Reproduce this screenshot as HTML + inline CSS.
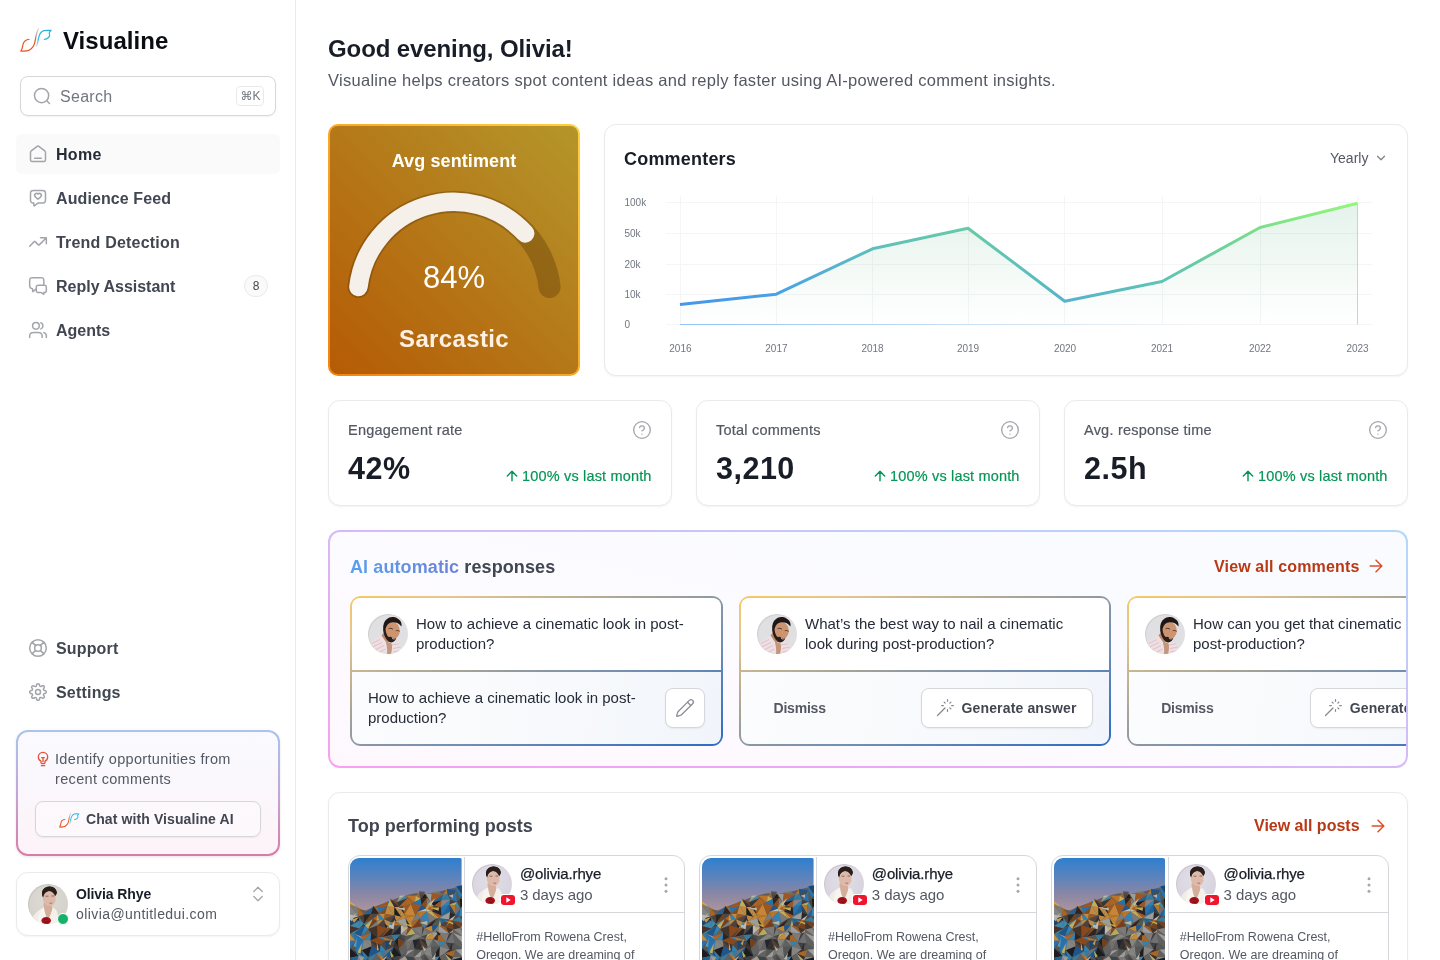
<!DOCTYPE html>
<html lang="en">
<head>
<meta charset="utf-8">
<title>Visualine</title>
<style>
*{box-sizing:border-box;margin:0;padding:0}
html,body{width:1440px;height:960px;overflow:hidden;background:#fff}
body{font-family:"Liberation Sans",sans-serif;color:#181d27;position:relative;-webkit-font-smoothing:antialiased}
.abs{position:absolute}
.t{position:absolute;white-space:nowrap;line-height:1}
.b{font-weight:700}
svg{display:block;position:absolute;overflow:visible}
.ic{fill:none;stroke:#a3a5ab;stroke-width:1.8;stroke-linecap:round;stroke-linejoin:round}
/* sidebar */
#side{position:absolute;left:0;top:0;width:296px;height:960px;background:#fff;border-right:1px solid #e9eaeb}
.nav{position:absolute;left:56px;font-size:16px;font-weight:700;color:#414651;white-space:nowrap;line-height:20px}
.card{position:absolute;background:#fff;border:1px solid #e9eaeb;border-radius:12px;box-shadow:0 1px 2px rgba(10,13,18,.05)}
.sl{top:422.600px;font-size:14.5px;color:#535862;letter-spacing:.22px;-webkit-text-stroke:.2px #535862}
.sv{top:453px;font-size:30.5px;color:#181d27;letter-spacing:.5px}
.hc{top:420px;stroke-width:1.6}
.ar{top:468px;stroke:#079455;stroke-width:2.2}
.sc{top:469px;font-size:14.5px;color:#079455;letter-spacing:.17px;-webkit-text-stroke:.2px #079455}
/* gradient cards (coords relative to #aibox at 330,532) */
.gc{position:absolute;top:64px;width:372.67px;height:150px;border-radius:11px;background:linear-gradient(to bottom right,#f5c866 0%,#e4c68e 14%,#a9a596 38%,#8896a4 52%,#6f8db3 66%,#4a7cbd 84%,#2b6cc2 100%)}
.gt{position:absolute;top:66px;width:368.67px;height:72px;border-radius:8px 8px 0 0;background:#fff}
.gb{position:absolute;top:140px;width:368.67px;height:72px;border-radius:0 0 8px 8px;background:linear-gradient(100deg,#fbfcfd 0%,#f7f9fc 60%,#f1f5fb 100%)}
.gs{display:none}
.q{font-size:15px;line-height:20px;color:#252b37;letter-spacing:0}
.dm{font-size:14px;color:#535862;letter-spacing:-.2px}
.ga{font-size:14px;color:#414651;letter-spacing:.15px}
.btn{position:absolute;border:1px solid #d5d7da;border-radius:8px;background:#fff;box-shadow:0 1px 2px rgba(10,13,18,.06)}
.wand{stroke:#85888e;stroke-width:1.5}
.av1::after,.av2::after,.av0::after{content:"";position:absolute;left:0;top:0;width:100%;height:100%;border-radius:50%;border:1px solid rgba(0,0,0,.09)}
.av2{position:absolute;top:82px;width:40px;height:40px;border-radius:50%;overflow:hidden}
.pn{top:866px;font-size:15px;color:#181d27;letter-spacing:-.13px;-webkit-text-stroke:.25px #181d27}
.pd{top:886.500px;font-size:15px;color:#535862;letter-spacing:-.09px}
.pt{top:928px;font-size:12.5px;line-height:18.4px;color:#535862}
.av1{position:absolute;top:864px;width:40px;height:40px;border-radius:50%;overflow:hidden}
</style>
</head>
<body>
<!-- ================= SIDEBAR ================= -->
<div id="side">
  <!-- logo -->
  <svg style="left:0;top:0" width="70" height="60" viewBox="0 0 70 60" fill="none" stroke-linecap="round" stroke-linejoin="round" stroke-width="1.25">
    <defs>
      <linearGradient id="lgo" x1="0" y1="51" x2="0" y2="28.8" gradientUnits="userSpaceOnUse"><stop offset="0" stop-color="#e9501a"/><stop offset=".5" stop-color="#e25a2a"/><stop offset=".72" stop-color="#bfa9a0"/><stop offset="1" stop-color="#dcdcdc"/></linearGradient>
      <linearGradient id="lgb" x1="0" y1="30" x2="0" y2="46.5" gradientUnits="userSpaceOnUse"><stop offset="0" stop-color="#27b1de"/><stop offset=".6" stop-color="#3cc0e4"/><stop offset="1" stop-color="#d8e4e8"/></linearGradient>
    </defs>
    <path d="M29 39.3C26.5 39.3 23.5 41.5 23 44.5C22.6 47 22.3 49.5 20.8 51C25 51.6 30.5 51 33.5 46C35.5 42.5 35.3 39 36 36C36.7 33 37.5 30.5 38.4 28.8" stroke="url(#lgo)"/>
    <path d="M44.4 39.4C46.5 39.2 48.5 38.2 49.4 36.4C50 35 49 33.5 49.4 32.5C49.8 31.5 50.5 31 51.1 30.4C48.5 30.2 46 30.2 44 30.6C41.5 31.2 40 33.5 39.3 35.5C38.3 38.5 38 41 37.5 43.2C37.2 44.5 36.8 45.5 36.4 46.3" stroke="url(#lgb)"/>
  </svg>
  <div class="t b" style="left:63px;top:29px;font-size:24px;color:#0a0d12;letter-spacing:.05px" id="brand">Visualine</div>

  <!-- search -->
  <div class="abs" style="left:20px;top:76px;width:256px;height:40px;border:1px solid #d5d7da;border-radius:8px;box-shadow:0 1px 2px rgba(10,13,18,.05);background:#fff"></div>
  <svg class="ic" style="left:32px;top:86px" width="20" height="20" viewBox="0 0 24 24"><path d="M21 21L17.5 17.5M20 11.5C20 16.1944 16.1944 20 11.5 20C6.80558 20 3 16.1944 3 11.5C3 6.80558 6.80558 3 11.5 3C16.1944 3 20 6.80558 20 11.5Z"/></svg>
  <div class="t" style="left:60px;top:89px;font-size:16px;color:#717680;letter-spacing:.3px">Search</div>
  <div class="abs" style="left:236px;top:86px;width:28px;height:20px;border:1px solid #e9eaeb;border-radius:4px;background:#fff"></div>
  <div class="t" style="left:240.500px;top:90px;font-size:12px;color:#717680;font-family:'DejaVu Sans','Liberation Sans',sans-serif">⌘</div>
  <div class="t" style="left:252.500px;top:90px;font-size:12px;color:#717680">K</div>

  <!-- nav -->
  <div class="abs" style="left:16px;top:134px;width:264px;height:40px;background:#fafafa;border-radius:6px"></div>
  <svg class="ic" style="left:28px;top:144px" width="20" height="20" viewBox="0 0 24 24"><path d="M8 17H16M11.0177 2.764L4.23539 8.03912C3.78202 8.39175 3.55534 8.56806 3.39203 8.78886C3.24737 8.98444 3.1396 9.20478 3.07403 9.43905C3 9.70352 3 9.9907 3 10.5651V17.8C3 18.9201 3 19.4801 3.21799 19.908C3.40973 20.2843 3.71569 20.5903 4.09202 20.782C4.51984 21 5.07989 21 6.2 21H17.8C18.9201 21 19.4802 21 19.908 20.782C20.2843 20.5903 20.5903 20.2843 20.782 19.908C21 19.4801 21 18.9201 21 17.8V10.5651C21 9.9907 21 9.70352 20.926 9.43905C20.8604 9.20478 20.7526 8.98444 20.608 8.78886C20.4447 8.56806 20.218 8.39175 19.7646 8.03913L12.9823 2.764C12.631 2.49075 12.4553 2.35412 12.2613 2.3016C12.0902 2.25526 11.9098 2.25526 11.7387 2.3016C11.5447 2.35412 11.369 2.49075 11.0177 2.764Z"/></svg>
  <div class="nav" style="top:145px;color:#252b37;letter-spacing:.3px">Home</div>

  <svg class="ic" style="left:28px;top:188px" width="20" height="20" viewBox="0 0 24 24"><path d="M7 18V20.3355C7 20.8684 7 21.1348 7.10923 21.2716C7.20422 21.3906 7.34827 21.4599 7.50054 21.4597C7.67563 21.4595 7.88367 21.2931 8.29976 20.9602L10.6852 19.0518C11.1725 18.662 11.4162 18.4671 11.6875 18.3285C11.9282 18.2055 12.1844 18.1156 12.4492 18.0613C12.7477 18 13.0597 18 13.6837 18H16.2C17.8802 18 18.7202 18 19.362 17.673C19.9265 17.3854 20.3854 16.9265 20.673 16.362C21 15.7202 21 14.8802 21 13.2V7.8C21 6.11984 21 5.27976 20.673 4.63803C20.3854 4.07354 19.9265 3.6146 19.362 3.32698C18.7202 3 17.8802 3 16.2 3H7.8C6.11984 3 5.27976 3 4.63803 3.32698C4.07354 3.6146 3.6146 4.07354 3.32698 4.63803C3 5.27976 3 6.11984 3 7.8V14C3 14.93 3 15.395 3.10222 15.7765C3.37962 16.8117 4.18827 17.6204 5.22354 17.8978C5.60504 18 6.07003 18 7 18Z"/><path d="M11.9973 7.33059C11.1975 6.4216 9.8639 6.17708 8.86188 7.00945C7.85986 7.84182 7.71879 9.23349 8.50568 10.2179C9.077 10.9327 10.6593 12.3397 11.4833 13.0569C11.662 13.2124 11.7513 13.2902 11.856 13.321C11.9466 13.3477 12.0479 13.3477 12.1386 13.321C12.2432 13.2902 12.3325 13.2124 12.5112 13.0569C13.3353 12.3397 14.9175 10.9327 15.4888 10.2179C16.2757 9.23349 16.1519 7.83306 15.1326 7.00945C14.1134 6.18584 12.797 6.4216 11.9973 7.33059Z"/></svg>
  <div class="nav" style="top:189px;letter-spacing:.1px">Audience Feed</div>

  <svg class="ic" style="left:28px;top:232px" width="20" height="20" viewBox="0 0 24 24"><path d="M22 7L14.1314 14.8686C13.7354 15.2646 13.5373 15.4627 13.309 15.5368C13.1082 15.6021 12.8918 15.6021 12.691 15.5368C12.4627 15.4627 12.2646 15.2646 11.8686 14.8686L9.13137 12.1314C8.73535 11.7354 8.53735 11.5373 8.30902 11.4632C8.10817 11.3979 7.89183 11.3979 7.69098 11.4632C7.46265 11.5373 7.26465 11.7354 6.86863 12.1314L2 17M22 7H15M22 7V14"/></svg>
  <div class="nav" style="top:233px;letter-spacing:.2px">Trend Detection</div>

  <svg class="ic" style="left:28px;top:276px" width="20" height="20" viewBox="0 0 24 24"><path d="M10 15L6.92474 18.1137C6.49579 18.548 6.28131 18.7652 6.09695 18.7805C5.93701 18.7938 5.78042 18.7295 5.67596 18.6076C5.55556 18.4672 5.55556 18.162 5.55556 17.5515V15.9916C5.55556 15.444 5.10707 15.0477 4.5652 14.9683C3.25374 14.7762 2.22378 13.7463 2.03168 12.4348C2 12.2186 2 11.9605 2 11.4444V6.8C2 5.11984 2 4.27976 2.32698 3.63803C2.6146 3.07354 3.07354 2.6146 3.63803 2.32698C4.27976 2 5.11984 2 6.8 2H14.2C15.8802 2 16.7202 2 17.362 2.32698C17.9265 2.6146 18.3854 3.07354 18.673 3.63803C19 4.27976 19 5.11984 19 6.8V11M19 22L16.8236 20.4869C16.5177 20.2742 16.3647 20.1678 16.1982 20.0924C16.0504 20.0255 15.8951 19.9768 15.7356 19.9474C15.5558 19.9143 15.3695 19.9143 14.9969 19.9143H13.2C12.0799 19.9143 11.5198 19.9143 11.092 19.6963C10.7157 19.5046 10.4097 19.1986 10.218 18.8223C10 18.3944 10 17.8344 10 16.7143V14.2C10 13.0799 10 12.5198 10.218 12.092C10.4097 11.7157 10.7157 11.4097 11.092 11.218C11.5198 11 12.0799 11 13.2 11H18.8C19.9201 11 20.4802 11 20.908 11.218C21.2843 11.4097 21.5903 11.7157 21.782 12.092C22 12.5198 22 13.0799 22 14.2V16.9143C22 17.8462 22 18.3121 21.8478 18.6797C21.6448 19.1697 21.2554 19.5591 20.7654 19.762C20.3978 19.9143 19.9319 19.9143 19 19.9143V22Z"/></svg>
  <div class="nav" style="top:277px">Reply Assistant</div>
  <div class="abs" style="left:244px;top:275px;width:24px;height:22px;border-radius:11px;background:#fafafa;border:1px solid #e9eaeb"></div>
  <div class="t" style="left:252px;top:280px;font-size:12px;color:#414651;width:8px;text-align:center">8</div>

  <svg class="ic" style="left:28px;top:320px" width="20" height="20" viewBox="0 0 24 24"><path d="M22 21V19C22 17.1362 20.7252 15.5701 19 15.126M15.5 3.29076C16.9659 3.88415 18 5.32131 18 7C18 8.67869 16.9659 10.1159 15.5 10.7092M17 21C17 19.1362 17 18.2044 16.6955 17.4693C16.2895 16.4892 15.5108 15.7105 14.5307 15.3045C13.7956 15 12.8638 15 11 15H8C6.13623 15 5.20435 15 4.46927 15.3045C3.48915 15.7105 2.71046 16.4892 2.30448 17.4693C2 18.2044 2 19.1362 2 21M13.5 7C13.5 9.20914 11.7091 11 9.5 11C7.29086 11 5.5 9.20914 5.5 7C5.5 4.79086 7.29086 3 9.5 3C11.7091 3 13.5 4.79086 13.5 7Z"/></svg>
  <div class="nav" style="top:321px">Agents</div>

  <!-- footer nav -->
  <svg class="ic" style="left:28px;top:638px" width="20" height="20" viewBox="0 0 24 24"><path d="M9.13626 9.13628L4.92893 4.92896M4.92893 19.0711L9.1677 14.8323M14.8611 14.8638L19.0684 19.0711M19.0684 4.92896L14.8287 9.16862M22 12C22 17.5228 17.5228 22 12 22C6.47715 22 2 17.5228 2 12C2 6.47715 6.47715 2 12 2C17.5228 2 22 6.47715 22 12ZM16 12C16 14.2091 14.2091 16 12 16C9.79086 16 8 14.2091 8 12C8 9.79086 9.79086 8 12 8C14.2091 8 16 9.79086 16 12Z"/></svg>
  <div class="nav" style="top:639px;letter-spacing:.15px">Support</div>

  <svg class="ic" style="left:28px;top:682px" width="20" height="20" viewBox="0 0 24 24"><path d="M12 15C13.6569 15 15 13.6569 15 12C15 10.3431 13.6569 9 12 9C10.3431 9 9 10.3431 9 12C9 13.6569 10.3431 15 12 15Z"/><path d="M18.7273 14.7273C18.6063 15.0015 18.5702 15.3056 18.6236 15.6005C18.6771 15.8954 18.8177 16.1676 19.0273 16.3818L19.0818 16.4364C19.2509 16.6052 19.385 16.8057 19.4765 17.0265C19.568 17.2472 19.6151 17.4838 19.6151 17.7227C19.6151 17.9617 19.568 18.1983 19.4765 18.419C19.385 18.6397 19.2509 18.8402 19.0818 19.0091C18.913 19.1781 18.7124 19.3122 18.4917 19.4037C18.271 19.4952 18.0344 19.5423 17.7955 19.5423C17.5565 19.5423 17.3199 19.4952 17.0992 19.4037C16.8785 19.3122 16.678 19.1781 16.5091 19.0091L16.4545 18.9545C16.2403 18.745 15.9682 18.6044 15.6733 18.5509C15.3784 18.4974 15.0742 18.5335 14.8 18.6545C14.5311 18.7698 14.3018 18.9611 14.1403 19.205C13.9788 19.4489 13.8921 19.7347 13.8909 20.0273V20.1818C13.8909 20.664 13.6994 21.1265 13.3584 21.4675C13.0174 21.8084 12.5549 22 12.0727 22C11.5905 22 11.1281 21.8084 10.7871 21.4675C10.4461 21.1265 10.2545 20.664 10.2545 20.1818V20.1C10.2475 19.7991 10.1501 19.5073 9.97501 19.2625C9.79991 19.0176 9.55521 18.8312 9.27273 18.7273C8.99853 18.6063 8.69437 18.5702 8.39947 18.6236C8.10456 18.6771 7.83244 18.8177 7.61818 19.0273L7.56364 19.0818C7.39478 19.2509 7.19425 19.385 6.97353 19.4765C6.7528 19.568 6.51621 19.6151 6.27727 19.6151C6.03834 19.6151 5.80174 19.568 5.58102 19.4765C5.36029 19.385 5.15977 19.2509 4.99091 19.0818C4.82186 18.913 4.68775 18.7124 4.59626 18.4917C4.50476 18.271 4.45766 18.0344 4.45766 17.7955C4.45766 17.5565 4.50476 17.3199 4.59626 17.0992C4.68775 16.8785 4.82186 16.678 4.99091 16.5091L5.04545 16.4545C5.25503 16.2403 5.39562 15.9682 5.4491 15.6733C5.50257 15.3784 5.46647 15.0742 5.34545 14.8C5.23022 14.5311 5.03887 14.3018 4.79497 14.1403C4.55107 13.9788 4.26526 13.8921 3.97273 13.8909H3.81818C3.33597 13.8909 2.87351 13.6994 2.53253 13.3584C2.19156 13.0174 2 12.5549 2 12.0727C2 11.5905 2.19156 11.1281 2.53253 10.7871C2.87351 10.4461 3.33597 10.2545 3.81818 10.2545H3.9C4.2009 10.2475 4.49273 10.1501 4.73754 9.97501C4.98236 9.79991 5.16883 9.55521 5.27273 9.27273C5.39374 8.99853 5.42984 8.69437 5.37637 8.39947C5.3229 8.10456 5.18231 7.83244 4.97273 7.61818L4.91818 7.56364C4.74913 7.39478 4.61503 7.19425 4.52353 6.97353C4.43203 6.7528 4.38493 6.51621 4.38493 6.27727C4.38493 6.03834 4.43203 5.80174 4.52353 5.58102C4.61503 5.36029 4.74913 5.15977 4.91818 4.99091C5.08704 4.82186 5.28757 4.68775 5.50829 4.59626C5.72901 4.50476 5.96561 4.45766 6.20455 4.45766C6.44348 4.45766 6.68008 4.50476 6.9008 4.59626C7.12152 4.68775 7.32205 4.82186 7.49091 4.99091L7.54545 5.04545C7.75971 5.25503 8.03183 5.39562 8.32674 5.4491C8.62164 5.50257 8.9258 5.46647 9.2 5.34545H9.27273C9.54161 5.23022 9.77093 5.03887 9.93245 4.79497C10.094 4.55107 10.1807 4.26526 10.1818 3.97273V3.81818C10.1818 3.33597 10.3734 2.87351 10.7144 2.53253C11.0553 2.19156 11.5178 2 12 2C12.4822 2 12.9447 2.19156 13.2856 2.53253C13.6266 2.87351 13.8182 3.33597 13.8182 3.81818V3.9C13.8193 4.19253 13.906 4.47834 14.0676 4.72224C14.2291 4.96614 14.4584 5.15749 14.7273 5.27273C15.0015 5.39374 15.3056 5.42984 15.6005 5.37637C15.8954 5.3229 16.1676 5.18231 16.3818 4.97273L16.4364 4.91818C16.6052 4.74913 16.8057 4.61503 17.0265 4.52353C17.2472 4.43203 17.4838 4.38493 17.7227 4.38493C17.9617 4.38493 18.1983 4.43203 18.419 4.52353C18.6397 4.61503 18.8402 4.74913 19.0091 4.91818C19.1781 5.08704 19.3122 5.28757 19.4037 5.50829C19.4952 5.72901 19.5423 5.96561 19.5423 6.20455C19.5423 6.44348 19.4952 6.68008 19.4037 6.9008C19.3122 7.12152 19.1781 7.32205 19.0091 7.49091L18.9545 7.54545C18.745 7.75971 18.6044 8.03183 18.5509 8.32674C18.4974 8.62164 18.5335 8.9258 18.6545 9.2V9.27273C18.7698 9.54161 18.9611 9.77093 19.205 9.93245C19.4489 10.094 19.7347 10.1807 20.0273 10.1818H20.1818C20.664 10.1818 21.1265 10.3734 21.4675 10.7144C21.8084 11.0553 22 11.5178 22 12C22 12.4822 21.8084 12.9447 21.4675 13.2856C21.1265 13.6266 20.664 13.8182 20.1818 13.8182H20.1C19.8075 13.8193 19.5217 13.906 19.2778 14.0676C19.0339 14.2291 18.8425 14.4584 18.7273 14.7273Z"/></svg>
  <div class="nav" style="top:683px;letter-spacing:.2px">Settings</div>

  <!-- AI promo card -->
  <div class="abs" style="left:16px;top:730px;width:264px;height:126px;border-radius:12px;background:linear-gradient(180deg,#a9c3ef 0%,#c4a6d6 50%,#d97ba8 100%);box-shadow:0 1px 3px rgba(10,13,18,.10)"></div>
  <div class="abs" style="left:18px;top:732px;width:260px;height:122px;border-radius:10px;background:linear-gradient(180deg,#f9faff 0%,#fbf6fb 60%,#fdf3f8 100%)"></div>
  <svg style="left:35px;top:751px;fill:none;stroke:#e4553a;stroke-width:2;stroke-linecap:round;stroke-linejoin:round" width="16" height="16" viewBox="0 0 24 24"><path d="M9.5 22H14.5M10 10H14M12 10L12 16M15 15.3264C17.3649 14.2029 19 11.7924 19 9C19 5.13401 15.866 2 12 2C8.13401 2 5 5.13401 5 9C5 11.7924 6.63505 14.2029 9 15.3264V16C9 16.9319 9 17.3978 9.15224 17.7654C9.35523 18.2554 9.74458 18.6448 10.2346 18.8478C10.6022 19 11.0681 19 12 19C12.9319 19 13.3978 19 13.7654 18.8478C14.2554 18.6448 14.6448 18.2554 14.8478 17.7654C15 17.3978 15 16.9319 15 16V15.3264Z"/></svg>
  <div class="t" style="left:55px;top:749px;font-size:14.5px;line-height:20px;color:#535862;white-space:normal;width:220px;letter-spacing:.33px" id="promo">Identify opportunities from<br>recent comments</div>
  <div class="abs" style="left:35px;top:801px;width:226px;height:36px;border:1px solid #d5d7da;border-radius:8px;background:rgba(255,255,255,.35);box-shadow:0 1px 2px rgba(10,13,18,.06)"></div>
  <svg style="left:0;top:780px" width="120" height="60" viewBox="0 0 120 60" fill="none" stroke-linecap="round" stroke-linejoin="round" stroke-width="1.6">
    <g transform="translate(46.4,14.6) scale(.635)">
    <path d="M29 39.3C26.5 39.3 23.5 41.5 23 44.5C22.6 47 22.3 49.5 20.8 51C25 51.6 30.5 51 33.5 46C35.5 42.5 35.3 39 36 36C36.7 33 37.5 30.5 38.4 28.8" stroke="url(#lgo)"/>
    <path d="M44.4 39.4C46.5 39.2 48.5 38.2 49.4 36.4C50 35 49 33.5 49.4 32.5C49.8 31.5 50.5 31 51.1 30.4C48.5 30.2 46 30.2 44 30.6C41.5 31.2 40 33.5 39.3 35.5C38.3 38.5 38 41 37.5 43.2C37.2 44.5 36.8 45.5 36.4 46.3" stroke="url(#lgb)"/>
    </g>
  </svg>
  <div class="t b" style="left:86px;top:812px;font-size:14px;color:#414651;letter-spacing:.1px" id="chatbtn">Chat with Visualine AI</div>

  <!-- user card -->
  <div class="card" style="left:16px;top:872px;width:264px;height:64px"></div>
  <div class="abs av0" style="left:28px;top:884px;width:40px;height:40px;border-radius:50%;overflow:hidden"><svg width="40" height="40" viewBox="0 0 40 40" style="position:static">
<defs><radialGradient id="wbg0" cx=".45" cy=".4" r=".7"><stop offset="0" stop-color="#dedad4"/><stop offset="1" stop-color="#d3cfc9"/></radialGradient></defs>
<rect width="40" height="40" fill="url(#wbg0)"/>
<path d="M3 40C4 33 7 28 13 25L16 23.5L26 24C29 26 31 30 31 40Z" fill="#f0ece6"/>
<path d="M15.5 19L16 26C16.5 30 18 34 20 36C21.5 33 23 29 24.5 25L23 20Z" fill="#d4ad9b"/>
<path d="M13 25.5L16 23.5C16.5 28 18 33 20 36L17 40H9C10 34 11 29 13 25.5Z" fill="#f7f5f1"/>
<path d="M24.5 24.5L27 25.5C29 29 30 34 30 40H22C22.5 35 23.5 29 24.5 24.5Z" fill="#f4f1ec"/>
<ellipse cx="21.4" cy="8.6" rx="7.3" ry="6" fill="#2a1e1b"/><ellipse cx="21.2" cy="14.6" rx="6.4" ry="7.6" fill="#dcb9a8" transform="rotate(-8 21.2 14.6)"/>
<path d="M14.2 12C13.2 6.5 16.5 2.6 21.5 2.6C26.5 2.6 29.3 6 28.8 10.5C27.5 7.8 24.5 6.4 21 7C17.8 7.6 15.6 9.6 15.2 13.5Z" fill="#2a1e1b"/>
<path d="M17.5 12.2h3M23.5 12h2.6" stroke="#6b4a40" stroke-width=".7" fill="none"/>
<path d="M21.5 19.2h2.6" stroke="#b5615a" stroke-width=".9" fill="none"/>
<ellipse cx="18.2" cy="36.6" rx="4.8" ry="3.6" fill="#a5131d"/>
<path d="M15.5 36c1.5-1.5 3.5-1.500 5 .2M16.500 38c1.500.8 3 .6 4.200-.6" stroke="#7a0c14" stroke-width=".8" fill="none"/>
</svg></div>
  <div class="abs" style="left:57px;top:913px;width:12px;height:12px;border-radius:50%;background:#17b26a;border:1px solid #fff"></div>
  <div class="t b" style="left:76px;top:887px;font-size:14px;color:#181d27;letter-spacing:-.1px" id="uname">Olivia Rhye</div>
  <div class="t" style="left:76px;top:907px;font-size:14px;color:#535862;letter-spacing:.42px" id="umail">olivia@untitledui.com</div>
  <svg class="ic" style="left:248px;top:884px;stroke-width:1.6" width="20" height="20" viewBox="0 0 24 24"><path d="M7 15L12 20L17 15M7 9L12 4L17 9"/></svg>
</div>

<!-- ================= MAIN ================= -->
<div class="t b" style="left:328px;top:37px;font-size:24px;color:#181d27;letter-spacing:-.1px" id="h1">Good evening, Olivia!</div>
<div class="t" style="left:328px;top:72px;font-size:16.5px;color:#535862;letter-spacing:.28px" id="sub">Visualine helps creators spot content ideas and reply faster using AI-powered comment insights.</div>

<!-- ===== Sentiment card ===== -->
<div class="abs" style="left:328px;top:124px;width:252px;height:252px;border-radius:10px;background:linear-gradient(45deg,#f5820f 0%,#faa928 50%,#ffd040 100%)"></div>
<div class="abs" style="left:330px;top:126px;width:248px;height:248px;border-radius:8px;background:linear-gradient(45deg,#b55b06 0%,#b57818 50%,#b4962b 100%)"></div>
<svg style="left:328px;top:124px" width="252" height="252" viewBox="328 124 252 252" fill="none" stroke-linecap="round">
  <path d="M358.4 287 A96.25 96.25 0 0 1 549.6 287" stroke="rgba(92,58,8,.38)" stroke-width="22"/>
  <path d="M358.4 287 A96.25 96.25 0 0 1 525.2 233.4" stroke="#f5f0ea" stroke-width="18.5"/>
</svg>
<div class="t b" style="left:328px;width:252px;text-align:center;top:151.500px;font-size:18px;color:#fff;letter-spacing:.1px" id="avg">Avg sentiment</div>
<div class="t" style="left:328px;width:252px;text-align:center;top:261.500px;font-size:31px;color:#fff" id="pct">84%</div>
<div class="t b" style="left:328px;width:252px;text-align:center;top:327px;font-size:24px;color:#fdf1e4;letter-spacing:.35px" id="sarc">Sarcastic</div>

<!-- ===== Chart card ===== -->
<div class="card" style="left:604px;top:124px;width:804px;height:252px"></div>
<div class="t b" style="left:624px;top:150px;font-size:18px;color:#181d27;letter-spacing:.2px" id="cmt">Commenters</div>
<div class="t" style="left:1330px;top:151px;font-size:14px;color:#535862" id="yearly">Yearly</div>
<svg class="ic" style="left:1374px;top:151px;stroke:#7d8088;stroke-width:2.1" width="14" height="14" viewBox="0 0 24 24"><path d="M6 9L12 15L18 9"/></svg>
<svg style="left:604px;top:124px" width="804" height="252" viewBox="604 124 804 252">
  <defs>
    <linearGradient id="lg" x1="0" y1="1" x2="1" y2="0">
      <stop offset="0" stop-color="#4596ea"/><stop offset=".15" stop-color="#4ba3e2"/><stop offset=".3" stop-color="#55b3cd"/><stop offset=".45" stop-color="#5fc2b6"/><stop offset=".6" stop-color="#67caa6"/><stop offset=".8" stop-color="#7ade8b"/><stop offset="1" stop-color="#92f878"/>
    </linearGradient>
    <linearGradient id="ag" x1="0" y1="200" x2="0" y2="325" gradientUnits="userSpaceOnUse">
      <stop offset="0" stop-color="#2e9e62" stop-opacity=".13"/><stop offset="1" stop-color="#2e9e62" stop-opacity=".0"/>
    </linearGradient>
    <linearGradient id="bl" x1="680" y1="0" x2="1200" y2="0" gradientUnits="userSpaceOnUse">
      <stop offset="0" stop-color="#8fc4f2"/><stop offset="1" stop-color="#8fc4f2" stop-opacity="0"/>
    </linearGradient>
  </defs>
  <g stroke="#f4f5f6" stroke-width="1" fill="none">
    <path d="M666 202.5H1372M666 233.5H1372M666 264.5H1372M666 294.5H1372M666 324.5H1372"/>
    <path d="M680.5 196V325M776.5 196V325M872.5 196V325M968.5 196V325M1064.5 196V325M1162.5 196V325M1260.5 196V325M1357.5 196V325"/>
  </g>
  <path d="M680 304.5L776.3 294.2L872.5 248.8L968 228.2L1064.7 301.2L1162 281.5L1260 227.5L1357.5 203.2V324.5H680Z" fill="url(#ag)"/>
  <path d="M680 324.5H1200" stroke="url(#bl)" stroke-width="1" fill="none"/>
  <path d="M1357.5 203.2V324.5" stroke="#8eeaa6" stroke-width="1" stroke-opacity=".8" fill="none"/>
  <path d="M680 304.5L776.3 294.2L872.5 248.8L968 228.2L1064.7 301.2L1162 281.5L1260 227.5L1357.5 203.2" stroke="url(#lg)" stroke-width="3" fill="none" stroke-linejoin="round"/>
  <g font-family="Liberation Sans, sans-serif" font-size="10" fill="#717680">
    <text x="624.5" y="206.2">100k</text><text x="624.5" y="237">50k</text><text x="624.5" y="267.5">20k</text><text x="624.5" y="298">10k</text><text x="624.5" y="328.2">0</text>
    <g text-anchor="middle"><text x="680.4" y="352">2016</text><text x="776.4" y="352">2017</text><text x="872.5" y="352">2018</text><text x="968" y="352">2019</text><text x="1065" y="352">2020</text><text x="1162" y="352">2021</text><text x="1260" y="352">2022</text><text x="1357.5" y="352">2023</text></g>
  </g>
</svg>

<!-- ===== Stat cards ===== -->
<div class="card" style="left:328px;top:400px;width:344px;height:106px"></div>
<div class="card" style="left:696px;top:400px;width:344px;height:106px"></div>
<div class="card" style="left:1064px;top:400px;width:344px;height:106px"></div>

<div class="t sl" style="left:348px" id="s1l">Engagement rate</div>
<div class="t b sv" style="left:348px" id="s1v">42%</div>
<svg class="ic hc" style="left:632px"  width="20" height="20" viewBox="0 0 24 24"><path d="M9.09 9C9.3251 8.33167 9.78915 7.76811 10.4 7.40913C11.0108 7.05016 11.7289 6.91894 12.4272 7.03871C13.1255 7.15849 13.7588 7.52152 14.2151 8.06353C14.6713 8.60553 14.9211 9.29152 14.92 10C14.92 12 11.92 13 11.92 13M12 17H12.01M22 12C22 17.5228 17.5228 22 12 22C6.47715 22 2 17.5228 2 12C2 6.47715 6.47715 2 12 2C17.5228 2 22 6.47715 22 12Z"/></svg>
<svg class="ic ar" style="left:504px" width="16" height="16" viewBox="0 0 24 24"><path d="M12 19V5M12 5L5 12M12 5L19 12"/></svg>
<div class="t sc" style="left:522px" id="s1c">100% vs last month</div>

<div class="t sl" style="left:716px" id="s2l">Total comments</div>
<div class="t b sv" style="left:716px" id="s2v">3,210</div>
<svg class="ic hc" style="left:1000px"  width="20" height="20" viewBox="0 0 24 24"><path d="M9.09 9C9.3251 8.33167 9.78915 7.76811 10.4 7.40913C11.0108 7.05016 11.7289 6.91894 12.4272 7.03871C13.1255 7.15849 13.7588 7.52152 14.2151 8.06353C14.6713 8.60553 14.9211 9.29152 14.92 10C14.92 12 11.92 13 11.92 13M12 17H12.01M22 12C22 17.5228 17.5228 22 12 22C6.47715 22 2 17.5228 2 12C2 6.47715 6.47715 2 12 2C17.5228 2 22 6.47715 22 12Z"/></svg>
<svg class="ic ar" style="left:872px" width="16" height="16" viewBox="0 0 24 24"><path d="M12 19V5M12 5L5 12M12 5L19 12"/></svg>
<div class="t sc" style="left:890px">100% vs last month</div>

<div class="t sl" style="left:1084px" id="s3l">Avg. response time</div>
<div class="t b sv" style="left:1084px" id="s3v">2.5h</div>
<svg class="ic hc" style="left:1368px"  width="20" height="20" viewBox="0 0 24 24"><path d="M9.09 9C9.3251 8.33167 9.78915 7.76811 10.4 7.40913C11.0108 7.05016 11.7289 6.91894 12.4272 7.03871C13.1255 7.15849 13.7588 7.52152 14.2151 8.06353C14.6713 8.60553 14.9211 9.29152 14.92 10C14.92 12 11.92 13 11.92 13M12 17H12.01M22 12C22 17.5228 17.5228 22 12 22C6.47715 22 2 17.5228 2 12C2 6.47715 6.47715 2 12 2C17.5228 2 22 6.47715 22 12Z"/></svg>
<svg class="ic ar" style="left:1240px" width="16" height="16" viewBox="0 0 24 24"><path d="M12 19V5M12 5L5 12M12 5L19 12"/></svg>
<div class="t sc" style="left:1258px">100% vs last month</div>
<!-- ===== AI automatic responses ===== -->
<div class="abs" style="left:328px;top:530px;width:1080px;height:238px;border-radius:12px;background:linear-gradient(to top right,#f6a2f1 0%,#eaa9f3 25%,#d6b9f6 50%,#c3cbf8 75%,#b3d9f8 100%)"></div>
<div class="abs" id="aibox" style="left:330px;top:532px;width:1076px;height:234px;border-radius:10px;background:linear-gradient(to top right,#fef8fe 0%,#fcfbff 45%,#f9fbff 100%);overflow:hidden">
  <div class="t b" style="left:20px;top:26px;font-size:18px;color:#414651;letter-spacing:.1px" id="aititle"><span style="background:linear-gradient(90deg,#58a0ef,#6c82d9);-webkit-background-clip:text;background-clip:text;color:transparent">AI automatic</span> responses</div>
  <div class="t b" style="left:884px;top:27px;font-size:16px;color:#b93815;letter-spacing:.15px" id="vac">View all comments</div>
  <svg class="ic" style="left:1036px;top:24px;stroke:#d9512c" width="20" height="20" viewBox="0 0 24 24"><path d="M5 12H19M19 12L12 5M19 12L12 19"/></svg>

  <!-- card 1 -->
  <div class="gc" style="left:20px"></div>
  <div class="gt" style="left:22px"></div>
  <div class="gb" style="left:22px"></div>
  <div class="gs" style="left:22px"></div>
  <div class="av2" style="left:38px"><svg width="40" height="40" viewBox="0 0 40 40" style="position:static">
<rect width="40" height="40" fill="#e0e0e2"/>
<path d="M2 30C5 26 9 23.500 13.500 21.500L19 29L29.500 28C32 30 33.500 34 34 40H2Z" fill="#eddfe2"/>
<path d="M4 29.500L12 25.500M4.500 33L14 28.500M6 36.500L16 31.500M9 39.500L17.500 35M24 31L31 29.800M25 34.500L32.500 33.200M25.500 38L33.500 36.800" stroke="#dcbcc6" stroke-width=".9" fill="none"/>
<path d="M13.500 21.500L15.500 19L22 27L19 29.500Z" fill="#b98a70"/>
<ellipse cx="24.3" cy="16" rx="7.400" ry="8.800" fill="#cd9470" transform="rotate(-18 24.3 16)"/>
<path d="M15 15.500C15.500 20.500 17.500 25 21 27.800C24 29.500 27.500 27.500 28.500 23.500C26.500 24.800 24 24.600 22.800 22.500C21.800 23.500 20 23 19.200 21.200C18 19 17.600 17 17.600 14.500Z" fill="#2b1d17"/>
<path d="M24 24.200C25 25.300 26.800 25.200 27.600 24.200" stroke="#e9c9b8" stroke-width=".9" fill="none"/>
<path d="M15.200 15.800C14.800 11 16.200 7 19 5C21.500 2.600 26 2.200 29.500 4.500C32.500 6.200 34.200 9 33.400 12.500C31.500 9.500 28 8 24.500 8.200C21 8.500 18.600 10.500 17.700 14.500Z" fill="#1d1715"/>
<path d="M20.500 14.800C22 14 24 14.200 25 15.300M27.800 16.800C29 16.200 30.600 16.500 31.600 17.400" stroke="#3a2a24" stroke-width=".8" fill="none"/>
<path d="M18 29.200C19.500 28 22 28.200 23.500 29.500C24.500 32 24 36 23 40H19C19.500 36 19 32 18 29.200Z" fill="#c4967c"/>
</svg></div>
  <div class="t q" style="left:86px;top:82px" id="q1">How to achieve a cinematic look in post-<br>production?</div>
  <div class="t q" style="left:38px;top:156px">How to achieve a cinematic look in post-<br>production?</div>
  <div class="btn" style="left:335px;top:156px;width:40px;height:40px"></div>
  <svg class="ic" style="left:345px;top:166px;stroke:#8e9096;stroke-width:1.6" width="20" height="20" viewBox="0 0 24 24"><path d="M21.174 6.812a1 1 0 0 0-3.986-3.987L3.842 16.174a2 2 0 0 0-.5.83l-1.321 4.352a.5.5 0 0 0 .623.622l4.353-1.32a2 2 0 0 0 .83-.497z"/><path d="M15 5l4 4"/></svg>

  <!-- card 2 -->
  <div class="gc" style="left:408.67px"></div>
  <div class="gt" style="left:410.67px"></div>
  <div class="gb" style="left:410.67px"></div>
  <div class="gs" style="left:410px"></div>
  <div class="av2" style="left:426.5px"><svg width="40" height="40" viewBox="0 0 40 40" style="position:static">
<rect width="40" height="40" fill="#e0e0e2"/>
<path d="M2 30C5 26 9 23.500 13.500 21.500L19 29L29.500 28C32 30 33.500 34 34 40H2Z" fill="#eddfe2"/>
<path d="M4 29.500L12 25.500M4.500 33L14 28.500M6 36.500L16 31.500M9 39.500L17.500 35M24 31L31 29.800M25 34.500L32.500 33.200M25.500 38L33.500 36.800" stroke="#dcbcc6" stroke-width=".9" fill="none"/>
<path d="M13.500 21.500L15.500 19L22 27L19 29.500Z" fill="#b98a70"/>
<ellipse cx="24.3" cy="16" rx="7.400" ry="8.800" fill="#cd9470" transform="rotate(-18 24.3 16)"/>
<path d="M15 15.500C15.500 20.500 17.500 25 21 27.800C24 29.500 27.500 27.500 28.500 23.500C26.500 24.800 24 24.600 22.800 22.500C21.800 23.500 20 23 19.200 21.200C18 19 17.600 17 17.600 14.500Z" fill="#2b1d17"/>
<path d="M24 24.200C25 25.300 26.800 25.200 27.600 24.200" stroke="#e9c9b8" stroke-width=".9" fill="none"/>
<path d="M15.200 15.800C14.800 11 16.200 7 19 5C21.500 2.600 26 2.200 29.500 4.500C32.500 6.200 34.200 9 33.400 12.500C31.500 9.500 28 8 24.500 8.200C21 8.500 18.600 10.500 17.700 14.500Z" fill="#1d1715"/>
<path d="M20.500 14.800C22 14 24 14.200 25 15.300M27.800 16.800C29 16.200 30.600 16.500 31.600 17.400" stroke="#3a2a24" stroke-width=".8" fill="none"/>
<path d="M18 29.200C19.500 28 22 28.200 23.500 29.500C24.500 32 24 36 23 40H19C19.500 36 19 32 18 29.200Z" fill="#c4967c"/>
</svg></div>
  <div class="t q" style="left:475px;top:82px" id="q2">What’s the best way to nail a cinematic<br>look during post-production?</div>
  <div class="t b dm" style="left:443.500px;top:168.800px" id="dm1">Dismiss</div>
  <div class="btn" style="left:591px;top:156px;width:172px;height:40px"></div>
  <svg class="ic wand" style="left:605px;top:166px" width="20" height="20" viewBox="0 0 24 24"><path d="M15 4V2M15 16v-2M8 9h2M20 9h2M17.8 11.8L19 13M17.8 6.2L19 5M3 21l9-9M12.2 6.2L11 5"/></svg>
  <div class="t b ga" style="left:631.500px;top:168.800px" id="ga1">Generate answer</div>

  <!-- card 3 -->
  <div class="gc" style="left:797.33px"></div>
  <div class="gt" style="left:799.33px"></div>
  <div class="gb" style="left:799.33px"></div>
  <div class="gs" style="left:798px"></div>
  <div class="av2" style="left:815px"><svg width="40" height="40" viewBox="0 0 40 40" style="position:static">
<rect width="40" height="40" fill="#e0e0e2"/>
<path d="M2 30C5 26 9 23.500 13.500 21.500L19 29L29.500 28C32 30 33.500 34 34 40H2Z" fill="#eddfe2"/>
<path d="M4 29.500L12 25.500M4.500 33L14 28.500M6 36.500L16 31.500M9 39.500L17.500 35M24 31L31 29.800M25 34.500L32.500 33.200M25.500 38L33.500 36.800" stroke="#dcbcc6" stroke-width=".9" fill="none"/>
<path d="M13.500 21.500L15.500 19L22 27L19 29.500Z" fill="#b98a70"/>
<ellipse cx="24.3" cy="16" rx="7.400" ry="8.800" fill="#cd9470" transform="rotate(-18 24.3 16)"/>
<path d="M15 15.500C15.500 20.500 17.500 25 21 27.800C24 29.500 27.500 27.500 28.500 23.500C26.500 24.800 24 24.600 22.800 22.500C21.800 23.500 20 23 19.200 21.200C18 19 17.600 17 17.600 14.500Z" fill="#2b1d17"/>
<path d="M24 24.200C25 25.300 26.800 25.200 27.600 24.200" stroke="#e9c9b8" stroke-width=".9" fill="none"/>
<path d="M15.200 15.800C14.800 11 16.200 7 19 5C21.500 2.600 26 2.200 29.500 4.500C32.500 6.200 34.200 9 33.400 12.500C31.500 9.500 28 8 24.500 8.200C21 8.500 18.600 10.500 17.700 14.500Z" fill="#1d1715"/>
<path d="M20.500 14.800C22 14 24 14.200 25 15.300M27.800 16.800C29 16.200 30.600 16.500 31.600 17.400" stroke="#3a2a24" stroke-width=".8" fill="none"/>
<path d="M18 29.200C19.500 28 22 28.200 23.500 29.500C24.500 32 24 36 23 40H19C19.500 36 19 32 18 29.200Z" fill="#c4967c"/>
</svg></div>
  <div class="t q" style="left:863px;top:82px" id="q3">How can you get that cinematic look in<br>post-production?</div>
  <div class="t b dm" style="left:831.200px;top:168.800px">Dismiss</div>
  <div class="btn" style="left:979.700px;top:156px;width:172px;height:40px"></div>
  <svg class="ic wand" style="left:993.200px;top:166px" width="20" height="20" viewBox="0 0 24 24"><path d="M15 4V2M15 16v-2M8 9h2M20 9h2M17.8 11.8L19 13M17.8 6.2L19 5M3 21l9-9M12.2 6.2L11 5"/></svg>
  <div class="t b ga" style="left:1019.700px;top:168.800px">Generate answer</div>
</div>
<!--S3START--><!-- ===== Top performing posts ===== -->
<div class="card" style="left:328px;top:792px;width:1080px;height:200px;border-bottom-left-radius:0;border-bottom-right-radius:0"></div>
<div class="t b" style="left:348px;top:817px;font-size:18px;color:#414651" id="tpp">Top performing posts</div>
<div class="t b" style="left:1254px;top:818px;font-size:16px;color:#b93815" id="vap">View all posts</div>
<svg class="ic" style="left:1368px;top:816px;stroke:#d9512c" width="20" height="20" viewBox="0 0 24 24"><path d="M5 12H19M19 12L12 5M19 12L12 19"/></svg>

<!-- post 1 -->
<div class="abs" style="left:347.6px;top:855.4px;width:337.5px;height:140px;border:1px solid #d5d7da;border-radius:12px;background:#fff"></div>
<div class="abs" style="left:464.2px;top:857px;width:1px;height:110px;background:#d5d7da"></div>
<div class="abs" style="left:465.2px;top:912px;width:219px;height:1px;background:#d5d7da"></div>
<svg style="left:350.3px;top:858px;border-radius:9px 2px 0 0;overflow:hidden" width="111.6" height="104" viewBox="0 0 112 104" preserveAspectRatio="none">
<defs><linearGradient id="sky1" x1="0" y1="0" x2="0" y2="1"><stop offset="0" stop-color="#2f7fce"/><stop offset=".3" stop-color="#5883be"/><stop offset=".6" stop-color="#8a86a5"/><stop offset=".85" stop-color="#a9939c"/><stop offset="1" stop-color="#b59c9c"/></linearGradient><filter id="bl1" x="-5%" y="-5%" width="110%" height="110%"><feGaussianBlur stdDeviation=".55"/></filter></defs>
<rect width="112" height="60" fill="url(#sky1)"/>
<polygon points="0,104 0,45.0 4,47.5 8,50.0 12,51.7 16,52.6 20,50.8 24,49.0 28,47.5 32,46.0 36,44.5 40,42.9 44,41.4 48,40.1 52,38.8 56,37.6 60,36.5 64,35.5 68,35.2 72,35.7 76,35.8 80,35.2 84,34.6 88,34.0 92,33.0 96,32.0 100,31.0 104,30.0 108,29.0 112,28.0 112,104" fill="#7a6a58"/>
<g filter="url(#bl1)">
<polygon points="86.9,31.9 93.4,37.0 82.2,35.7" fill="#85847f"/>
<polygon points="97.2,31.3 97.9,35.9 93.4,37.0" fill="#e08a2a"/>
<polygon points="97.2,30.8 106.8,32.5 97.9,35.9" fill="#1a64a8"/>
<polygon points="106.6,28.2 113.7,27.0 113.0,37.5" fill="#1d4f80"/>
<polygon points="106.6,28.2 113.0,37.5 106.8,32.5" fill="#2a86d0"/>
<polygon points="113.7,27.0 119.0,26.3 113.0,37.5" fill="#4f392b"/>
<polygon points="119.0,26.3 119.0,36.7 113.0,37.5" fill="#379bd8"/>
<polygon points="50.2,37.7 55.7,37.6 46.9,44.4" fill="#bdbcb4"/>
<polygon points="55.7,37.6 57.8,39.9 46.9,44.4" fill="#4f9fc4"/>
<polygon points="55.7,37.6 65.9,37.7 65.0,44.9" fill="#e08a2a"/>
<polygon points="55.7,37.6 65.0,44.9 57.8,39.9" fill="#a85216"/>
<polygon points="65.9,37.7 69.2,35.1 70.9,41.1" fill="#cf7420"/>
<polygon points="65.9,37.7 70.9,41.1 65.0,44.9" fill="#f0d060"/>
<polygon points="69.2,33.3 75.4,33.8 70.9,41.1" fill="#54534f"/>
<polygon points="75.4,35.4 77.3,39.8 70.9,41.1" fill="#1e1c1f"/>
<polygon points="75.4,35.7 82.2,35.7 81.1,44.8" fill="#bdbcb4"/>
<polygon points="75.4,35.0 81.1,44.8 77.3,39.8" fill="#4f392b"/>
<polygon points="82.2,35.7 93.4,37.0 81.1,44.8" fill="#c0651a"/>
<polygon points="93.4,37.0 91.9,42.2 81.1,44.8" fill="#2672ae"/>
<polygon points="93.4,37.0 97.9,35.9 91.9,42.2" fill="#379bd8"/>
<polygon points="97.9,35.9 100.6,41.6 91.9,42.2" fill="#3f8fb8"/>
<polygon points="97.9,35.9 106.8,32.5 100.6,41.6" fill="#54534f"/>
<polygon points="106.8,32.5 107.2,44.0 100.6,41.6" fill="#2a86d0"/>
<polygon points="106.8,32.5 113.0,37.5 110.3,40.5" fill="#2a86d0"/>
<polygon points="106.8,32.5 110.3,40.5 107.2,44.0" fill="#65645f"/>
<polygon points="113.0,37.5 119.0,36.7 110.3,40.5" fill="#26262c"/>
<polygon points="119.0,36.7 119.0,40.8 110.3,40.5" fill="#a09f98"/>
<polygon points="0.0,43.5 7.5,48.7 0.0,47.4" fill="#e6a645"/>
<polygon points="37.7,43.3 37.4,48.5 27.7,49.5" fill="#c0651a"/>
<polygon points="37.7,43.3 40.0,42.6 37.4,48.5" fill="#2a86d0"/>
<polygon points="40.0,41.9 44.5,49.0 37.4,48.5" fill="#f0d060"/>
<polygon points="40.0,40.6 46.9,44.4 49.2,49.1" fill="#8a4a1c"/>
<polygon points="40.0,40.5 49.2,49.1 44.5,49.0" fill="#43332a"/>
<polygon points="46.9,44.4 57.8,39.9 49.2,49.1" fill="#4f392b"/>
<polygon points="57.8,39.9 53.1,48.6 49.2,49.1" fill="#cf7420"/>
<polygon points="57.8,39.9 65.0,44.9 53.1,48.6" fill="#cf7420"/>
<polygon points="65.0,44.9 61.1,46.0 53.1,48.6" fill="#4f9fc4"/>
<polygon points="65.0,44.9 70.9,41.1 61.1,46.0" fill="#54534f"/>
<polygon points="70.9,41.1 71.8,47.0 61.1,46.0" fill="#2a86d0"/>
<polygon points="70.9,41.1 77.3,39.8 71.8,47.0" fill="#33261d"/>
<polygon points="77.3,39.8 76.8,50.4 71.8,47.0" fill="#a85216"/>
<polygon points="77.3,39.8 81.1,44.8 76.8,50.4" fill="#93918a"/>
<polygon points="81.1,44.8 84.3,48.0 76.8,50.4" fill="#e6a645"/>
<polygon points="81.1,44.8 91.9,42.2 84.3,48.0" fill="#1e1c1f"/>
<polygon points="91.9,42.2 91.1,49.3 84.3,48.0" fill="#c0651a"/>
<polygon points="91.9,42.2 100.6,41.6 91.1,49.3" fill="#a09f98"/>
<polygon points="100.6,41.6 99.7,46.6 91.1,49.3" fill="#379bd8"/>
<polygon points="100.6,41.6 107.2,44.0 99.7,46.6" fill="#48474a"/>
<polygon points="107.2,44.0 105.4,47.5 99.7,46.6" fill="#d8d070"/>
<polygon points="107.2,44.0 110.3,40.5 110.7,50.6" fill="#5a4a3c"/>
<polygon points="107.2,44.0 110.7,50.6 105.4,47.5" fill="#4f9fc4"/>
<polygon points="110.3,40.5 119.0,40.8 110.7,50.6" fill="#1e1c1f"/>
<polygon points="119.0,40.8 119.0,49.0 110.7,50.6" fill="#3f8fb8"/>
<polygon points="0.0,47.4 7.5,47.9 8.6,58.5" fill="#93918a"/>
<polygon points="0.0,47.4 8.6,58.5 0.0,56.4" fill="#a09f98"/>
<polygon points="7.5,48.5 13.7,56.7 8.6,58.5" fill="#cf7420"/>
<polygon points="23.5,48.1 21.0,56.1 13.7,56.7" fill="#2672ae"/>
<polygon points="23.5,48.1 27.7,49.5 29.2,55.7" fill="#cf7420"/>
<polygon points="23.5,48.1 29.2,55.7 21.0,56.1" fill="#33261d"/>
<polygon points="27.7,49.5 37.4,48.5 29.2,55.7" fill="#2a86d0"/>
<polygon points="37.4,48.5 35.2,55.9 29.2,55.7" fill="#a85216"/>
<polygon points="37.4,48.5 44.5,49.0 44.6,57.2" fill="#f0a038"/>
<polygon points="37.4,48.5 44.6,57.2 35.2,55.9" fill="#e6a645"/>
<polygon points="44.5,49.0 49.2,49.1 51.3,58.7" fill="#e6a645"/>
<polygon points="44.5,49.0 51.3,58.7 44.6,57.2" fill="#1e1c1f"/>
<polygon points="49.2,49.1 53.1,48.6 54.6,56.4" fill="#26262c"/>
<polygon points="49.2,49.1 54.6,56.4 51.3,58.7" fill="#e6a645"/>
<polygon points="53.1,48.6 61.1,46.0 54.6,56.4" fill="#c0651a"/>
<polygon points="61.1,46.0 65.7,58.0 54.6,56.4" fill="#f0a038"/>
<polygon points="61.1,46.0 71.8,47.0 65.7,58.0" fill="#c0651a"/>
<polygon points="71.8,47.0 67.8,53.7 65.7,58.0" fill="#3a312a"/>
<polygon points="71.8,47.0 76.8,50.4 67.8,53.7" fill="#1a64a8"/>
<polygon points="76.8,50.4 76.7,53.4 67.8,53.7" fill="#e8e0d0"/>
<polygon points="76.8,50.4 84.3,48.0 82.4,53.4" fill="#cf7420"/>
<polygon points="76.8,50.4 82.4,53.4 76.7,53.4" fill="#e8e0d0"/>
<polygon points="84.3,48.0 91.1,49.3 82.4,53.4" fill="#4f392b"/>
<polygon points="91.1,49.3 92.0,57.7 82.4,53.4" fill="#26262c"/>
<polygon points="91.1,49.3 99.7,46.6 92.0,57.7" fill="#2a86d0"/>
<polygon points="99.7,46.6 100.4,53.9 92.0,57.7" fill="#2672ae"/>
<polygon points="99.7,46.6 105.4,47.5 106.3,57.0" fill="#e08a2a"/>
<polygon points="99.7,46.6 106.3,57.0 100.4,53.9" fill="#1d4f80"/>
<polygon points="105.4,47.5 110.7,50.6 106.3,57.0" fill="#85847f"/>
<polygon points="110.7,50.6 109.9,58.3 106.3,57.0" fill="#2672ae"/>
<polygon points="110.7,50.6 119.0,49.0 119.0,58.8" fill="#2a86d0"/>
<polygon points="110.7,50.6 119.0,58.8 109.9,58.3" fill="#379bd8"/>
<polygon points="0.0,56.4 8.6,58.5 0.0,61.3" fill="#e8e0d0"/>
<polygon points="8.6,58.5 9.7,62.4 0.0,61.3" fill="#1e1c1f"/>
<polygon points="8.6,58.5 13.7,56.7 13.9,65.9" fill="#5a4a3c"/>
<polygon points="8.6,58.5 13.9,65.9 9.7,62.4" fill="#3f8fb8"/>
<polygon points="13.7,56.7 21.0,56.1 13.9,65.9" fill="#33261d"/>
<polygon points="21.0,56.1 23.0,61.0 13.9,65.9" fill="#8a4a1c"/>
<polygon points="21.0,56.1 29.2,55.7 23.0,61.0" fill="#54534f"/>
<polygon points="29.2,55.7 27.6,63.1 23.0,61.0" fill="#cf7420"/>
<polygon points="29.2,55.7 35.2,55.9 34.0,61.2" fill="#e6a645"/>
<polygon points="29.2,55.7 34.0,61.2 27.6,63.1" fill="#379bd8"/>
<polygon points="35.2,55.9 44.6,57.2 34.0,61.2" fill="#c0651a"/>
<polygon points="44.6,57.2 40.9,64.3 34.0,61.2" fill="#54534f"/>
<polygon points="44.6,57.2 51.3,58.7 46.1,63.3" fill="#e6a645"/>
<polygon points="44.6,57.2 46.1,63.3 40.9,64.3" fill="#43332a"/>
<polygon points="51.3,58.7 54.6,56.4 46.1,63.3" fill="#5a4a3c"/>
<polygon points="54.6,56.4 55.6,60.1 46.1,63.3" fill="#f0a038"/>
<polygon points="54.6,56.4 65.7,58.0 55.6,60.1" fill="#e08a2a"/>
<polygon points="65.7,58.0 62.0,63.7 55.6,60.1" fill="#f0a038"/>
<polygon points="65.7,58.0 67.8,53.7 62.0,63.7" fill="#43332a"/>
<polygon points="67.8,53.7 70.1,60.4 62.0,63.7" fill="#93918a"/>
<polygon points="67.8,53.7 76.7,53.4 70.1,60.4" fill="#e08a2a"/>
<polygon points="76.7,53.4 79.9,64.7 70.1,60.4" fill="#379bd8"/>
<polygon points="76.7,53.4 82.4,53.4 86.8,60.6" fill="#f0d060"/>
<polygon points="76.7,53.4 86.8,60.6 79.9,64.7" fill="#93918a"/>
<polygon points="82.4,53.4 92.0,57.7 89.6,60.2" fill="#c0651a"/>
<polygon points="82.4,53.4 89.6,60.2 86.8,60.6" fill="#e6a645"/>
<polygon points="92.0,57.7 100.4,53.9 89.6,60.2" fill="#4f9fc4"/>
<polygon points="100.4,53.9 99.7,61.6 89.6,60.2" fill="#bdbcb4"/>
<polygon points="100.4,53.9 106.3,57.0 99.7,61.6" fill="#33261d"/>
<polygon points="106.3,57.0 102.8,62.5 99.7,61.6" fill="#d8d8d0"/>
<polygon points="106.3,57.0 109.9,58.3 102.8,62.5" fill="#54534f"/>
<polygon points="109.9,58.3 114.5,64.9 102.8,62.5" fill="#3f8fb8"/>
<polygon points="109.9,58.3 119.0,58.8 119.0,61.6" fill="#4f392b"/>
<polygon points="109.9,58.3 119.0,61.6 114.5,64.9" fill="#5a4a3c"/>
<polygon points="0.0,61.3 9.7,62.4 0.0,67.9" fill="#1d4f80"/>
<polygon points="9.7,62.4 9.5,70.4 0.0,67.9" fill="#4f9fc4"/>
<polygon points="9.7,62.4 13.9,65.9 9.5,70.4" fill="#4f9fc4"/>
<polygon points="13.9,65.9 15.2,67.5 9.5,70.4" fill="#4f392b"/>
<polygon points="13.9,65.9 23.0,61.0 15.2,67.5" fill="#379bd8"/>
<polygon points="23.0,61.0 18.3,71.1 15.2,67.5" fill="#f0d060"/>
<polygon points="23.0,61.0 27.6,63.1 18.3,71.1" fill="#8a4a1c"/>
<polygon points="27.6,63.1 27.6,67.4 18.3,71.1" fill="#93918a"/>
<polygon points="27.6,63.1 34.0,61.2 27.6,67.4" fill="#e6a645"/>
<polygon points="34.0,61.2 37.6,70.8 27.6,67.4" fill="#5a4a3c"/>
<polygon points="34.0,61.2 40.9,64.3 37.6,70.8" fill="#e6a645"/>
<polygon points="40.9,64.3 43.8,67.5 37.6,70.8" fill="#4f9fc4"/>
<polygon points="40.9,64.3 46.1,63.3 51.1,67.4" fill="#cf7420"/>
<polygon points="40.9,64.3 51.1,67.4 43.8,67.5" fill="#e08a2a"/>
<polygon points="46.1,63.3 55.6,60.1 58.2,69.7" fill="#bdbcb4"/>
<polygon points="46.1,63.3 58.2,69.7 51.1,67.4" fill="#e6a645"/>
<polygon points="55.6,60.1 62.0,63.7 62.0,70.3" fill="#f0a038"/>
<polygon points="55.6,60.1 62.0,70.3 58.2,69.7" fill="#43332a"/>
<polygon points="62.0,63.7 70.1,60.4 62.0,70.3" fill="#cf7420"/>
<polygon points="70.1,60.4 72.6,68.6 62.0,70.3" fill="#8a4a1c"/>
<polygon points="70.1,60.4 79.9,64.7 72.6,68.6" fill="#85847f"/>
<polygon points="79.9,64.7 74.8,70.2 72.6,68.6" fill="#379bd8"/>
<polygon points="79.9,64.7 86.8,60.6 74.8,70.2" fill="#5a4a3c"/>
<polygon points="86.8,60.6 82.4,67.7 74.8,70.2" fill="#33261d"/>
<polygon points="86.8,60.6 89.6,60.2 82.4,67.7" fill="#54534f"/>
<polygon points="89.6,60.2 89.0,67.3 82.4,67.7" fill="#65645f"/>
<polygon points="89.6,60.2 99.7,61.6 89.0,67.3" fill="#2672ae"/>
<polygon points="99.7,61.6 96.2,68.9 89.0,67.3" fill="#5a4a3c"/>
<polygon points="99.7,61.6 102.8,62.5 96.2,68.9" fill="#cf7420"/>
<polygon points="102.8,62.5 103.8,71.6 96.2,68.9" fill="#8a4a1c"/>
<polygon points="102.8,62.5 114.5,64.9 110.7,70.0" fill="#8a4a1c"/>
<polygon points="102.8,62.5 110.7,70.0 103.8,71.6" fill="#4f392b"/>
<polygon points="114.5,64.9 119.0,61.6 110.7,70.0" fill="#72716d"/>
<polygon points="119.0,61.6 119.0,68.1 110.7,70.0" fill="#e6a645"/>
<polygon points="0.0,67.9 9.5,70.4 0.0,76.1" fill="#4f392b"/>
<polygon points="9.5,70.4 4.1,75.5 0.0,76.1" fill="#4f9fc4"/>
<polygon points="9.5,70.4 15.2,67.5 4.1,75.5" fill="#2672ae"/>
<polygon points="15.2,67.5 11.1,78.4 4.1,75.5" fill="#1a64a8"/>
<polygon points="15.2,67.5 18.3,71.1 11.1,78.4" fill="#379bd8"/>
<polygon points="18.3,71.1 21.3,75.1 11.1,78.4" fill="#72716d"/>
<polygon points="18.3,71.1 27.6,67.4 27.8,79.6" fill="#4f392b"/>
<polygon points="18.3,71.1 27.8,79.6 21.3,75.1" fill="#26262c"/>
<polygon points="27.6,67.4 37.6,70.8 27.8,79.6" fill="#a85216"/>
<polygon points="37.6,70.8 32.6,78.9 27.8,79.6" fill="#5a4a3c"/>
<polygon points="37.6,70.8 43.8,67.5 32.6,78.9" fill="#a85216"/>
<polygon points="43.8,67.5 41.6,77.0 32.6,78.9" fill="#33261d"/>
<polygon points="43.8,67.5 51.1,67.4 41.6,77.0" fill="#54534f"/>
<polygon points="51.1,67.4 51.0,76.4 41.6,77.0" fill="#26262c"/>
<polygon points="51.1,67.4 58.2,69.7 51.0,76.4" fill="#e8e0d0"/>
<polygon points="58.2,69.7 56.0,78.1 51.0,76.4" fill="#a09f98"/>
<polygon points="58.2,69.7 62.0,70.3 56.0,78.1" fill="#a85216"/>
<polygon points="62.0,70.3 65.9,76.1 56.0,78.1" fill="#d8d070"/>
<polygon points="62.0,70.3 72.6,68.6 72.0,78.2" fill="#93918a"/>
<polygon points="62.0,70.3 72.0,78.2 65.9,76.1" fill="#85847f"/>
<polygon points="72.6,68.6 74.8,70.2 72.0,78.2" fill="#54534f"/>
<polygon points="74.8,70.2 77.8,76.4 72.0,78.2" fill="#93918a"/>
<polygon points="74.8,70.2 82.4,67.7 83.1,74.3" fill="#f0a038"/>
<polygon points="74.8,70.2 83.1,74.3 77.8,76.4" fill="#85847f"/>
<polygon points="82.4,67.7 89.0,67.3 83.1,74.3" fill="#1a64a8"/>
<polygon points="89.0,67.3 88.8,74.4 83.1,74.3" fill="#93918a"/>
<polygon points="89.0,67.3 96.2,68.9 99.4,75.5" fill="#c0651a"/>
<polygon points="89.0,67.3 99.4,75.5 88.8,74.4" fill="#bdbcb4"/>
<polygon points="96.2,68.9 103.8,71.6 99.4,75.5" fill="#4f392b"/>
<polygon points="103.8,71.6 103.0,74.5 99.4,75.5" fill="#bdbcb4"/>
<polygon points="103.8,71.6 110.7,70.0 114.0,79.2" fill="#a09f98"/>
<polygon points="103.8,71.6 114.0,79.2 103.0,74.5" fill="#72716d"/>
<polygon points="110.7,70.0 119.0,68.1 114.0,79.2" fill="#85847f"/>
<polygon points="119.0,68.1 119.0,78.0 114.0,79.2" fill="#8a4a1c"/>
<polygon points="0.0,76.1 4.1,75.5 5.5,82.8" fill="#3f8fb8"/>
<polygon points="0.0,76.1 5.5,82.8 0.0,82.7" fill="#e6a645"/>
<polygon points="4.1,75.5 11.1,78.4 13.8,81.9" fill="#bdbcb4"/>
<polygon points="4.1,75.5 13.8,81.9 5.5,82.8" fill="#2a86d0"/>
<polygon points="11.1,78.4 21.3,75.1 13.8,81.9" fill="#cf7420"/>
<polygon points="21.3,75.1 20.7,82.6 13.8,81.9" fill="#379bd8"/>
<polygon points="21.3,75.1 27.8,79.6 20.7,82.6" fill="#33261d"/>
<polygon points="27.8,79.6 30.8,86.8 20.7,82.6" fill="#a85216"/>
<polygon points="27.8,79.6 32.6,78.9 35.3,82.5" fill="#379bd8"/>
<polygon points="27.8,79.6 35.3,82.5 30.8,86.8" fill="#a85216"/>
<polygon points="32.6,78.9 41.6,77.0 44.8,82.9" fill="#65645f"/>
<polygon points="32.6,78.9 44.8,82.9 35.3,82.5" fill="#e08a2a"/>
<polygon points="41.6,77.0 51.0,76.4 44.8,82.9" fill="#3f8fb8"/>
<polygon points="51.0,76.4 48.1,81.0 44.8,82.9" fill="#1e1c1f"/>
<polygon points="51.0,76.4 56.0,78.1 55.3,83.8" fill="#54534f"/>
<polygon points="51.0,76.4 55.3,83.8 48.1,81.0" fill="#48474a"/>
<polygon points="56.0,78.1 65.9,76.1 55.3,83.8" fill="#65645f"/>
<polygon points="65.9,76.1 63.0,82.2 55.3,83.8" fill="#a09f98"/>
<polygon points="65.9,76.1 72.0,78.2 63.0,82.2" fill="#a09f98"/>
<polygon points="72.0,78.2 70.0,81.0 63.0,82.2" fill="#72716d"/>
<polygon points="72.0,78.2 77.8,76.4 75.6,81.5" fill="#54534f"/>
<polygon points="72.0,78.2 75.6,81.5 70.0,81.0" fill="#72716d"/>
<polygon points="77.8,76.4 83.1,74.3 75.6,81.5" fill="#f0d060"/>
<polygon points="83.1,74.3 83.4,81.3 75.6,81.5" fill="#e6a645"/>
<polygon points="83.1,74.3 88.8,74.4 83.4,81.3" fill="#bdbcb4"/>
<polygon points="88.8,74.4 88.1,82.8 83.4,81.3" fill="#4f392b"/>
<polygon points="88.8,74.4 99.4,75.5 96.4,84.5" fill="#93918a"/>
<polygon points="88.8,74.4 96.4,84.5 88.1,82.8" fill="#cf7420"/>
<polygon points="99.4,75.5 103.0,74.5 96.4,84.5" fill="#48474a"/>
<polygon points="103.0,74.5 105.2,85.5 96.4,84.5" fill="#85847f"/>
<polygon points="103.0,74.5 114.0,79.2 112.9,85.3" fill="#bdbcb4"/>
<polygon points="103.0,74.5 112.9,85.3 105.2,85.5" fill="#72716d"/>
<polygon points="114.0,79.2 119.0,78.0 119.0,86.3" fill="#a09f98"/>
<polygon points="114.0,79.2 119.0,86.3 112.9,85.3" fill="#65645f"/>
<polygon points="0.0,82.7 5.5,82.8 0.0,90.3" fill="#2a86d0"/>
<polygon points="5.5,82.8 6.0,93.9 0.0,90.3" fill="#65645f"/>
<polygon points="5.5,82.8 13.8,81.9 6.0,93.9" fill="#2a86d0"/>
<polygon points="13.8,81.9 11.9,92.3 6.0,93.9" fill="#379bd8"/>
<polygon points="13.8,81.9 20.7,82.6 21.9,88.3" fill="#a09f98"/>
<polygon points="13.8,81.9 21.9,88.3 11.9,92.3" fill="#a09f98"/>
<polygon points="20.7,82.6 30.8,86.8 30.0,93.4" fill="#4f392b"/>
<polygon points="20.7,82.6 30.0,93.4 21.9,88.3" fill="#5a4a3c"/>
<polygon points="30.8,86.8 35.3,82.5 35.8,92.4" fill="#54534f"/>
<polygon points="30.8,86.8 35.8,92.4 30.0,93.4" fill="#379bd8"/>
<polygon points="35.3,82.5 44.8,82.9 35.8,92.4" fill="#1d4f80"/>
<polygon points="44.8,82.9 43.9,88.8 35.8,92.4" fill="#5a4a3c"/>
<polygon points="44.8,82.9 48.1,81.0 49.1,91.0" fill="#1e1c1f"/>
<polygon points="44.8,82.9 49.1,91.0 43.9,88.8" fill="#43332a"/>
<polygon points="48.1,81.0 55.3,83.8 49.1,91.0" fill="#8a4a1c"/>
<polygon points="55.3,83.8 58.0,92.8 49.1,91.0" fill="#72716d"/>
<polygon points="55.3,83.8 63.0,82.2 58.0,92.8" fill="#85847f"/>
<polygon points="63.0,82.2 65.0,91.5 58.0,92.8" fill="#72716d"/>
<polygon points="63.0,82.2 70.0,81.0 65.0,91.5" fill="#26262c"/>
<polygon points="70.0,81.0 72.4,92.1 65.0,91.5" fill="#3a312a"/>
<polygon points="70.0,81.0 75.6,81.5 78.2,89.4" fill="#3a312a"/>
<polygon points="70.0,81.0 78.2,89.4 72.4,92.1" fill="#5a4a3c"/>
<polygon points="75.6,81.5 83.4,81.3 78.2,89.4" fill="#a09f98"/>
<polygon points="83.4,81.3 81.2,88.8 78.2,89.4" fill="#85847f"/>
<polygon points="83.4,81.3 88.1,82.8 90.2,88.6" fill="#a09f98"/>
<polygon points="83.4,81.3 90.2,88.6 81.2,88.8" fill="#72716d"/>
<polygon points="88.1,82.8 96.4,84.5 90.2,88.6" fill="#379bd8"/>
<polygon points="96.4,84.5 100.0,91.4 90.2,88.6" fill="#85847f"/>
<polygon points="96.4,84.5 105.2,85.5 100.0,91.4" fill="#48474a"/>
<polygon points="105.2,85.5 105.8,91.8 100.0,91.4" fill="#65645f"/>
<polygon points="105.2,85.5 112.9,85.3 113.1,90.9" fill="#72716d"/>
<polygon points="105.2,85.5 113.1,90.9 105.8,91.8" fill="#65645f"/>
<polygon points="112.9,85.3 119.0,86.3 113.1,90.9" fill="#bdbcb4"/>
<polygon points="119.0,86.3 119.0,88.0 113.1,90.9" fill="#a09f98"/>
<polygon points="0.0,90.3 6.0,93.9 8.5,98.0" fill="#43332a"/>
<polygon points="0.0,90.3 8.5,98.0 0.0,99.8" fill="#1e1c1f"/>
<polygon points="6.0,93.9 11.9,92.3 14.2,99.0" fill="#1a64a8"/>
<polygon points="6.0,93.9 14.2,99.0 8.5,98.0" fill="#4f9fc4"/>
<polygon points="11.9,92.3 21.9,88.3 18.4,99.4" fill="#1e1c1f"/>
<polygon points="11.9,92.3 18.4,99.4 14.2,99.0" fill="#3f8fb8"/>
<polygon points="21.9,88.3 30.0,93.4 18.4,99.4" fill="#1a64a8"/>
<polygon points="30.0,93.4 26.5,95.4 18.4,99.4" fill="#2672ae"/>
<polygon points="30.0,93.4 35.8,92.4 33.6,99.4" fill="#3f8fb8"/>
<polygon points="30.0,93.4 33.6,99.4 26.5,95.4" fill="#4f9fc4"/>
<polygon points="35.8,92.4 43.9,88.8 33.6,99.4" fill="#85847f"/>
<polygon points="43.9,88.8 40.2,99.4 33.6,99.4" fill="#1a64a8"/>
<polygon points="43.9,88.8 49.1,91.0 51.9,98.0" fill="#43332a"/>
<polygon points="43.9,88.8 51.9,98.0 40.2,99.4" fill="#1e1c1f"/>
<polygon points="49.1,91.0 58.0,92.8 51.9,98.0" fill="#72716d"/>
<polygon points="58.0,92.8 55.3,97.9 51.9,98.0" fill="#65645f"/>
<polygon points="58.0,92.8 65.0,91.5 55.3,97.9" fill="#bdbcb4"/>
<polygon points="65.0,91.5 64.1,99.6 55.3,97.9" fill="#72716d"/>
<polygon points="65.0,91.5 72.4,92.1 64.1,99.6" fill="#65645f"/>
<polygon points="72.4,92.1 70.7,98.9 64.1,99.6" fill="#bdbcb4"/>
<polygon points="72.4,92.1 78.2,89.4 74.5,95.9" fill="#93918a"/>
<polygon points="72.4,92.1 74.5,95.9 70.7,98.9" fill="#93918a"/>
<polygon points="78.2,89.4 81.2,88.8 82.5,99.5" fill="#a09f98"/>
<polygon points="78.2,89.4 82.5,99.5 74.5,95.9" fill="#a09f98"/>
<polygon points="81.2,88.8 90.2,88.6 82.5,99.5" fill="#65645f"/>
<polygon points="90.2,88.6 89.8,98.4 82.5,99.5" fill="#1e1c1f"/>
<polygon points="90.2,88.6 100.0,91.4 89.8,98.4" fill="#a09f98"/>
<polygon points="100.0,91.4 95.1,95.4 89.8,98.4" fill="#a09f98"/>
<polygon points="100.0,91.4 105.8,91.8 95.1,95.4" fill="#43332a"/>
<polygon points="105.8,91.8 103.6,99.0 95.1,95.4" fill="#cf7420"/>
<polygon points="105.8,91.8 113.1,90.9 113.2,99.1" fill="#bdbcb4"/>
<polygon points="105.8,91.8 113.2,99.1 103.6,99.0" fill="#72716d"/>
<polygon points="113.1,90.9 119.0,88.0 113.2,99.1" fill="#54534f"/>
<polygon points="119.0,88.0 119.0,96.7 113.2,99.1" fill="#379bd8"/>
<polygon points="0.0,99.8 8.5,98.0 6.8,104.8" fill="#2672ae"/>
<polygon points="0.0,99.8 6.8,104.8 0.0,105.1" fill="#54534f"/>
<polygon points="8.5,98.0 14.2,99.0 11.7,107.4" fill="#bdbcb4"/>
<polygon points="8.5,98.0 11.7,107.4 6.8,104.8" fill="#a09f98"/>
<polygon points="14.2,99.0 18.4,99.4 11.7,107.4" fill="#3f8fb8"/>
<polygon points="18.4,99.4 19.2,107.9 11.7,107.4" fill="#54534f"/>
<polygon points="18.4,99.4 26.5,95.4 19.2,107.9" fill="#3f8fb8"/>
<polygon points="26.5,95.4 30.6,102.1 19.2,107.9" fill="#72716d"/>
<polygon points="26.5,95.4 33.6,99.4 34.8,106.9" fill="#e08a2a"/>
<polygon points="26.5,95.4 34.8,106.9 30.6,102.1" fill="#54534f"/>
<polygon points="33.6,99.4 40.2,99.4 44.8,104.7" fill="#65645f"/>
<polygon points="33.6,99.4 44.8,104.7 34.8,106.9" fill="#26262c"/>
<polygon points="40.2,99.4 51.9,98.0 47.6,103.3" fill="#48474a"/>
<polygon points="40.2,99.4 47.6,103.3 44.8,104.7" fill="#33261d"/>
<polygon points="51.9,98.0 55.3,97.9 47.6,103.3" fill="#65645f"/>
<polygon points="55.3,97.9 58.7,103.3 47.6,103.3" fill="#bdbcb4"/>
<polygon points="55.3,97.9 64.1,99.6 63.5,102.9" fill="#48474a"/>
<polygon points="55.3,97.9 63.5,102.9 58.7,103.3" fill="#48474a"/>
<polygon points="64.1,99.6 70.7,98.9 70.1,107.7" fill="#93918a"/>
<polygon points="64.1,99.6 70.1,107.7 63.5,102.9" fill="#54534f"/>
<polygon points="70.7,98.9 74.5,95.9 74.8,106.9" fill="#65645f"/>
<polygon points="70.7,98.9 74.8,106.9 70.1,107.7" fill="#a09f98"/>
<polygon points="74.5,95.9 82.5,99.5 84.1,107.3" fill="#85847f"/>
<polygon points="74.5,95.9 84.1,107.3 74.8,106.9" fill="#54534f"/>
<polygon points="82.5,99.5 89.8,98.4 84.1,107.3" fill="#4f9fc4"/>
<polygon points="89.8,98.4 92.2,103.4 84.1,107.3" fill="#1e1c1f"/>
<polygon points="89.8,98.4 95.1,95.4 100.4,104.9" fill="#72716d"/>
<polygon points="89.8,98.4 100.4,104.9 92.2,103.4" fill="#72716d"/>
<polygon points="95.1,95.4 103.6,99.0 102.1,102.0" fill="#3a312a"/>
<polygon points="95.1,95.4 102.1,102.0 100.4,104.9" fill="#d8d070"/>
<polygon points="103.6,99.0 113.2,99.1 102.1,102.0" fill="#a09f98"/>
<polygon points="113.2,99.1 112.0,104.7 102.1,102.0" fill="#1e1c1f"/>
<polygon points="113.2,99.1 119.0,96.7 112.0,104.7" fill="#bdbcb4"/>
<polygon points="119.0,96.7 119.0,103.8 112.0,104.7" fill="#4f392b"/>
<polygon points="0.0,105.1 6.8,104.8 0.0,109.8" fill="#54534f"/>
<polygon points="6.8,104.8 6.1,110.9 0.0,109.8" fill="#c0651a"/>
<polygon points="6.8,104.8 11.7,107.4 16.0,109.0" fill="#48474a"/>
<polygon points="6.8,104.8 16.0,109.0 6.1,110.9" fill="#1d4f80"/>
<polygon points="11.7,107.4 19.2,107.9 16.0,109.0" fill="#72716d"/>
<polygon points="19.2,107.9 22.5,114.0 16.0,109.0" fill="#e8e0d0"/>
<polygon points="19.2,107.9 30.6,102.1 22.5,114.0" fill="#5a4a3c"/>
<polygon points="30.6,102.1 25.7,114.6 22.5,114.0" fill="#379bd8"/>
<polygon points="30.6,102.1 34.8,106.9 36.3,114.4" fill="#4f9fc4"/>
<polygon points="30.6,102.1 36.3,114.4 25.7,114.6" fill="#3f8fb8"/>
<polygon points="34.8,106.9 44.8,104.7 36.3,114.4" fill="#4f392b"/>
<polygon points="44.8,104.7 40.7,111.2 36.3,114.4" fill="#5a4a3c"/>
<polygon points="44.8,104.7 47.6,103.3 40.7,111.2" fill="#2672ae"/>
<polygon points="47.6,103.3 48.4,115.0 40.7,111.2" fill="#5a4a3c"/>
<polygon points="47.6,103.3 58.7,103.3 56.5,111.2" fill="#93918a"/>
<polygon points="47.6,103.3 56.5,111.2 48.4,115.0" fill="#85847f"/>
<polygon points="58.7,103.3 63.5,102.9 62.6,110.7" fill="#a09f98"/>
<polygon points="58.7,103.3 62.6,110.7 56.5,111.2" fill="#72716d"/>
<polygon points="63.5,102.9 70.1,107.7 67.3,109.6" fill="#bdbcb4"/>
<polygon points="63.5,102.9 67.3,109.6 62.6,110.7" fill="#48474a"/>
<polygon points="70.1,107.7 74.8,106.9 67.3,109.6" fill="#54534f"/>
<polygon points="74.8,106.9 79.0,110.7 67.3,109.6" fill="#4f392b"/>
<polygon points="74.8,106.9 84.1,107.3 86.6,110.5" fill="#a09f98"/>
<polygon points="74.8,106.9 86.6,110.5 79.0,110.7" fill="#72716d"/>
<polygon points="84.1,107.3 92.2,103.4 86.6,110.5" fill="#a09f98"/>
<polygon points="92.2,103.4 89.6,112.1 86.6,110.5" fill="#43332a"/>
<polygon points="92.2,103.4 100.4,104.9 96.1,111.2" fill="#a09f98"/>
<polygon points="92.2,103.4 96.1,111.2 89.6,112.1" fill="#bdbcb4"/>
<polygon points="100.4,104.9 102.1,102.0 107.7,114.3" fill="#85847f"/>
<polygon points="100.4,104.9 107.7,114.3 96.1,111.2" fill="#65645f"/>
<polygon points="102.1,102.0 112.0,104.7 113.9,112.8" fill="#65645f"/>
<polygon points="102.1,102.0 113.9,112.8 107.7,114.3" fill="#85847f"/>
<polygon points="112.0,104.7 119.0,103.8 113.9,112.8" fill="#48474a"/>
<polygon points="119.0,103.8 119.0,114.5 113.9,112.8" fill="#48474a"/>
<polygon points="43.6,67.8 39.0,66.8 39.4,69.9" fill="#e8e0d0"/>
<polygon points="7.1,54.6 -0.9,60.8 1.7,63.2" fill="#d8d8d0"/>
<polygon points="57.6,69.1 53.1,68.9 54.1,72.1" fill="#f0d060"/>
<polygon points="39.9,92.5 41.4,99.4 44.0,98.2" fill="#d8d070"/>
<polygon points="34.3,65.9 36.5,69.7 38.1,68.1" fill="#1a1a20"/>
<polygon points="90.3,62.1 88.8,67.7 91.6,67.7" fill="#d8d070"/>
<polygon points="72.4,87.2 74.4,92.9 76.4,91.8" fill="#d8d8d0"/>
<polygon points="85.8,39.9 78.7,46.0 80.9,47.9" fill="#e8e0d0"/>
<polygon points="46.0,49.8 54.7,52.4 55.1,49.7" fill="#e8e0d0"/>
<polygon points="86.3,94.3 82.2,101.0 85.1,102.1" fill="#d8d8d0"/>
<polygon points="26.9,83.7 27.1,92.3 28.9,92.0" fill="#f0d060"/>
<polygon points="94.5,62.6 103.4,66.4 103.9,64.8" fill="#f0d060"/>
<polygon points="86.0,72.5 89.1,77.7 91.0,75.9" fill="#1a1a20"/>
<polygon points="7.1,79.4 3.4,88.2 6.1,88.9" fill="#58c0e8"/>
<polygon points="9.1,59.0 1.8,61.6 4.0,64.7" fill="#f8b850"/>
<polygon points="11.9,85.5 7.5,94.6 10.6,95.5" fill="#f0d060"/>
<polygon points="54.0,65.5 61.1,69.0 61.8,67.0" fill="#f0d060"/>
<polygon points="69.6,64.7 77.5,66.9 77.6,63.0" fill="#d8d8d0"/>
<polygon points="27.5,56.7 26.5,62.4 29.4,62.2" fill="#f8b850"/>
<polygon points="80.6,49.7 88.8,52.7 89.4,49.5" fill="#f0d060"/>
<polygon points="80.2,43.4 75.7,50.5 78.2,51.5" fill="#e8c050"/>
<polygon points="99.1,37.7 103.2,40.0 103.6,36.3" fill="#d8d8d0"/>
<polygon points="45.1,61.5 40.3,70.2 43.8,71.3" fill="#e8e0d0"/>
<polygon points="37.6,97.3 32.3,101.8 33.9,103.1" fill="#d8d8d0"/>
<polygon points="42.4,80.5 38.7,85.9 41.0,86.9" fill="#f8b850"/>
<polygon points="102.3,85.7 100.3,91.1 102.0,91.5" fill="#1a1a20"/>
</g>
<polygon points="0,104 0,45.0 4,47.5 8,50.0 12,51.7 16,52.6 20,50.8 24,49.0 28,47.5 32,46.0 36,44.5 40,42.9 44,41.4 48,40.1 52,38.8 56,37.6 60,36.5 64,35.5 68,35.2 72,35.7 76,35.8 80,35.2 84,34.6 88,34.0 92,33.0 96,32.0 100,31.0 104,30.0 108,29.0 112,28.0 112,104" fill="#1a2230" fill-opacity=".2"/>
</svg>
<div class="av1" style="left:472px"><svg width="40" height="40" viewBox="0 0 40 40" style="position:static">
<defs><radialGradient id="wbg1" cx=".45" cy=".4" r=".7"><stop offset="0" stop-color="#e2dee8"/><stop offset="1" stop-color="#d6d2dd"/></radialGradient></defs>
<rect width="40" height="40" fill="url(#wbg1)"/>
<path d="M3 40C4 33 7 28 13 25L16 23.5L26 24C29 26 31 30 31 40Z" fill="#f0ece6"/>
<path d="M15.5 19L16 26C16.5 30 18 34 20 36C21.5 33 23 29 24.5 25L23 20Z" fill="#d4ad9b"/>
<path d="M13 25.5L16 23.5C16.5 28 18 33 20 36L17 40H9C10 34 11 29 13 25.5Z" fill="#f7f5f1"/>
<path d="M24.5 24.5L27 25.5C29 29 30 34 30 40H22C22.5 35 23.5 29 24.5 24.5Z" fill="#f4f1ec"/>
<ellipse cx="21.4" cy="8.6" rx="7.3" ry="6" fill="#2a1e1b"/><ellipse cx="21.2" cy="14.6" rx="6.4" ry="7.6" fill="#dcb9a8" transform="rotate(-8 21.2 14.6)"/>
<path d="M14.2 12C13.2 6.5 16.5 2.6 21.5 2.6C26.5 2.6 29.3 6 28.8 10.5C27.5 7.8 24.5 6.4 21 7C17.8 7.6 15.6 9.6 15.2 13.5Z" fill="#2a1e1b"/>
<path d="M17.5 12.2h3M23.5 12h2.6" stroke="#6b4a40" stroke-width=".7" fill="none"/>
<path d="M21.5 19.2h2.6" stroke="#b5615a" stroke-width=".9" fill="none"/>
<ellipse cx="18.2" cy="36.6" rx="4.8" ry="3.6" fill="#a5131d"/>
<path d="M15.5 36c1.5-1.5 3.5-1.500 5 .2M16.500 38c1.500.8 3 .6 4.200-.6" stroke="#7a0c14" stroke-width=".8" fill="none"/>
</svg></div>
<div class="abs" style="left:500px;top:894px;width:16px;height:12px;border-radius:4px;background:#fff"></div>
<div class="abs" style="left:501px;top:895px;width:14px;height:10px;border-radius:3px;background:#f0142f"></div>
<svg style="left:506px;top:897px" width="5" height="6" viewBox="0 0 5 6"><path d="M0.3 0.3L4.7 3L0.3 5.7Z" fill="#fff"/></svg>
<div class="t pn" style="left:520px" id="pn1">@olivia.rhye</div>
<div class="t pd" style="left:520px" id="pd1">3 days ago</div>
<svg style="left:655.7px;top:874.500px" width="20" height="20" viewBox="0 0 20 20" fill="#a4a7ae"><circle cx="10" cy="3.8" r="1.5"/><circle cx="10" cy="10" r="1.5"/><circle cx="10" cy="16.2" r="1.5"/></svg>
<div class="t pt" style="left:476.2px" id="pt1">#HelloFrom Rowena Crest,<br>Oregon. We are dreaming of</div>

<!-- post 2 -->
<div class="abs" style="left:699.4px;top:855.4px;width:337.5px;height:140px;border:1px solid #d5d7da;border-radius:12px;background:#fff"></div>
<div class="abs" style="left:816px;top:857px;width:1px;height:110px;background:#d5d7da"></div>
<div class="abs" style="left:817px;top:912px;width:219px;height:1px;background:#d5d7da"></div>
<svg style="left:702.1px;top:858px;border-radius:9px 2px 0 0;overflow:hidden" width="111.6" height="104" viewBox="0 0 112 104" preserveAspectRatio="none">
<defs><linearGradient id="sky2" x1="0" y1="0" x2="0" y2="1"><stop offset="0" stop-color="#2f7fce"/><stop offset=".3" stop-color="#5883be"/><stop offset=".6" stop-color="#8a86a5"/><stop offset=".85" stop-color="#a9939c"/><stop offset="1" stop-color="#b59c9c"/></linearGradient><filter id="bl2" x="-5%" y="-5%" width="110%" height="110%"><feGaussianBlur stdDeviation=".55"/></filter></defs>
<rect width="112" height="60" fill="url(#sky2)"/>
<polygon points="0,104 0,45.0 4,47.5 8,50.0 12,51.7 16,52.6 20,50.8 24,49.0 28,47.5 32,46.0 36,44.5 40,42.9 44,41.4 48,40.1 52,38.8 56,37.6 60,36.5 64,35.5 68,35.2 72,35.7 76,35.8 80,35.2 84,34.6 88,34.0 92,33.0 96,32.0 100,31.0 104,30.0 108,29.0 112,28.0 112,104" fill="#7a6a58"/>
<g filter="url(#bl2)">
<polygon points="86.9,31.9 93.4,37.0 82.2,35.7" fill="#85847f"/>
<polygon points="97.2,31.3 97.9,35.9 93.4,37.0" fill="#e08a2a"/>
<polygon points="97.2,30.8 106.8,32.5 97.9,35.9" fill="#1a64a8"/>
<polygon points="106.6,28.2 113.7,27.0 113.0,37.5" fill="#1d4f80"/>
<polygon points="106.6,28.2 113.0,37.5 106.8,32.5" fill="#2a86d0"/>
<polygon points="113.7,27.0 119.0,26.3 113.0,37.5" fill="#4f392b"/>
<polygon points="119.0,26.3 119.0,36.7 113.0,37.5" fill="#379bd8"/>
<polygon points="50.2,37.7 55.7,37.6 46.9,44.4" fill="#bdbcb4"/>
<polygon points="55.7,37.6 57.8,39.9 46.9,44.4" fill="#4f9fc4"/>
<polygon points="55.7,37.6 65.9,37.7 65.0,44.9" fill="#e08a2a"/>
<polygon points="55.7,37.6 65.0,44.9 57.8,39.9" fill="#a85216"/>
<polygon points="65.9,37.7 69.2,35.1 70.9,41.1" fill="#cf7420"/>
<polygon points="65.9,37.7 70.9,41.1 65.0,44.9" fill="#f0d060"/>
<polygon points="69.2,33.3 75.4,33.8 70.9,41.1" fill="#54534f"/>
<polygon points="75.4,35.4 77.3,39.8 70.9,41.1" fill="#1e1c1f"/>
<polygon points="75.4,35.7 82.2,35.7 81.1,44.8" fill="#bdbcb4"/>
<polygon points="75.4,35.0 81.1,44.8 77.3,39.8" fill="#4f392b"/>
<polygon points="82.2,35.7 93.4,37.0 81.1,44.8" fill="#c0651a"/>
<polygon points="93.4,37.0 91.9,42.2 81.1,44.8" fill="#2672ae"/>
<polygon points="93.4,37.0 97.9,35.9 91.9,42.2" fill="#379bd8"/>
<polygon points="97.9,35.9 100.6,41.6 91.9,42.2" fill="#3f8fb8"/>
<polygon points="97.9,35.9 106.8,32.5 100.6,41.6" fill="#54534f"/>
<polygon points="106.8,32.5 107.2,44.0 100.6,41.6" fill="#2a86d0"/>
<polygon points="106.8,32.5 113.0,37.5 110.3,40.5" fill="#2a86d0"/>
<polygon points="106.8,32.5 110.3,40.5 107.2,44.0" fill="#65645f"/>
<polygon points="113.0,37.5 119.0,36.7 110.3,40.5" fill="#26262c"/>
<polygon points="119.0,36.7 119.0,40.8 110.3,40.5" fill="#a09f98"/>
<polygon points="0.0,43.5 7.5,48.7 0.0,47.4" fill="#e6a645"/>
<polygon points="37.7,43.3 37.4,48.5 27.7,49.5" fill="#c0651a"/>
<polygon points="37.7,43.3 40.0,42.6 37.4,48.5" fill="#2a86d0"/>
<polygon points="40.0,41.9 44.5,49.0 37.4,48.5" fill="#f0d060"/>
<polygon points="40.0,40.6 46.9,44.4 49.2,49.1" fill="#8a4a1c"/>
<polygon points="40.0,40.5 49.2,49.1 44.5,49.0" fill="#43332a"/>
<polygon points="46.9,44.4 57.8,39.9 49.2,49.1" fill="#4f392b"/>
<polygon points="57.8,39.9 53.1,48.6 49.2,49.1" fill="#cf7420"/>
<polygon points="57.8,39.9 65.0,44.9 53.1,48.6" fill="#cf7420"/>
<polygon points="65.0,44.9 61.1,46.0 53.1,48.6" fill="#4f9fc4"/>
<polygon points="65.0,44.9 70.9,41.1 61.1,46.0" fill="#54534f"/>
<polygon points="70.9,41.1 71.8,47.0 61.1,46.0" fill="#2a86d0"/>
<polygon points="70.9,41.1 77.3,39.8 71.8,47.0" fill="#33261d"/>
<polygon points="77.3,39.8 76.8,50.4 71.8,47.0" fill="#a85216"/>
<polygon points="77.3,39.8 81.1,44.8 76.8,50.4" fill="#93918a"/>
<polygon points="81.1,44.8 84.3,48.0 76.8,50.4" fill="#e6a645"/>
<polygon points="81.1,44.8 91.9,42.2 84.3,48.0" fill="#1e1c1f"/>
<polygon points="91.9,42.2 91.1,49.3 84.3,48.0" fill="#c0651a"/>
<polygon points="91.9,42.2 100.6,41.6 91.1,49.3" fill="#a09f98"/>
<polygon points="100.6,41.6 99.7,46.6 91.1,49.3" fill="#379bd8"/>
<polygon points="100.6,41.6 107.2,44.0 99.7,46.6" fill="#48474a"/>
<polygon points="107.2,44.0 105.4,47.5 99.7,46.6" fill="#d8d070"/>
<polygon points="107.2,44.0 110.3,40.5 110.7,50.6" fill="#5a4a3c"/>
<polygon points="107.2,44.0 110.7,50.6 105.4,47.5" fill="#4f9fc4"/>
<polygon points="110.3,40.5 119.0,40.8 110.7,50.6" fill="#1e1c1f"/>
<polygon points="119.0,40.8 119.0,49.0 110.7,50.6" fill="#3f8fb8"/>
<polygon points="0.0,47.4 7.5,47.9 8.6,58.5" fill="#93918a"/>
<polygon points="0.0,47.4 8.6,58.5 0.0,56.4" fill="#a09f98"/>
<polygon points="7.5,48.5 13.7,56.7 8.6,58.5" fill="#cf7420"/>
<polygon points="23.5,48.1 21.0,56.1 13.7,56.7" fill="#2672ae"/>
<polygon points="23.5,48.1 27.7,49.5 29.2,55.7" fill="#cf7420"/>
<polygon points="23.5,48.1 29.2,55.7 21.0,56.1" fill="#33261d"/>
<polygon points="27.7,49.5 37.4,48.5 29.2,55.7" fill="#2a86d0"/>
<polygon points="37.4,48.5 35.2,55.9 29.2,55.7" fill="#a85216"/>
<polygon points="37.4,48.5 44.5,49.0 44.6,57.2" fill="#f0a038"/>
<polygon points="37.4,48.5 44.6,57.2 35.2,55.9" fill="#e6a645"/>
<polygon points="44.5,49.0 49.2,49.1 51.3,58.7" fill="#e6a645"/>
<polygon points="44.5,49.0 51.3,58.7 44.6,57.2" fill="#1e1c1f"/>
<polygon points="49.2,49.1 53.1,48.6 54.6,56.4" fill="#26262c"/>
<polygon points="49.2,49.1 54.6,56.4 51.3,58.7" fill="#e6a645"/>
<polygon points="53.1,48.6 61.1,46.0 54.6,56.4" fill="#c0651a"/>
<polygon points="61.1,46.0 65.7,58.0 54.6,56.4" fill="#f0a038"/>
<polygon points="61.1,46.0 71.8,47.0 65.7,58.0" fill="#c0651a"/>
<polygon points="71.8,47.0 67.8,53.7 65.7,58.0" fill="#3a312a"/>
<polygon points="71.8,47.0 76.8,50.4 67.8,53.7" fill="#1a64a8"/>
<polygon points="76.8,50.4 76.7,53.4 67.8,53.7" fill="#e8e0d0"/>
<polygon points="76.8,50.4 84.3,48.0 82.4,53.4" fill="#cf7420"/>
<polygon points="76.8,50.4 82.4,53.4 76.7,53.4" fill="#e8e0d0"/>
<polygon points="84.3,48.0 91.1,49.3 82.4,53.4" fill="#4f392b"/>
<polygon points="91.1,49.3 92.0,57.7 82.4,53.4" fill="#26262c"/>
<polygon points="91.1,49.3 99.7,46.6 92.0,57.7" fill="#2a86d0"/>
<polygon points="99.7,46.6 100.4,53.9 92.0,57.7" fill="#2672ae"/>
<polygon points="99.7,46.6 105.4,47.5 106.3,57.0" fill="#e08a2a"/>
<polygon points="99.7,46.6 106.3,57.0 100.4,53.9" fill="#1d4f80"/>
<polygon points="105.4,47.5 110.7,50.6 106.3,57.0" fill="#85847f"/>
<polygon points="110.7,50.6 109.9,58.3 106.3,57.0" fill="#2672ae"/>
<polygon points="110.7,50.6 119.0,49.0 119.0,58.8" fill="#2a86d0"/>
<polygon points="110.7,50.6 119.0,58.8 109.9,58.3" fill="#379bd8"/>
<polygon points="0.0,56.4 8.6,58.5 0.0,61.3" fill="#e8e0d0"/>
<polygon points="8.6,58.5 9.7,62.4 0.0,61.3" fill="#1e1c1f"/>
<polygon points="8.6,58.5 13.7,56.7 13.9,65.9" fill="#5a4a3c"/>
<polygon points="8.6,58.5 13.9,65.9 9.7,62.4" fill="#3f8fb8"/>
<polygon points="13.7,56.7 21.0,56.1 13.9,65.9" fill="#33261d"/>
<polygon points="21.0,56.1 23.0,61.0 13.9,65.9" fill="#8a4a1c"/>
<polygon points="21.0,56.1 29.2,55.7 23.0,61.0" fill="#54534f"/>
<polygon points="29.2,55.7 27.6,63.1 23.0,61.0" fill="#cf7420"/>
<polygon points="29.2,55.7 35.2,55.9 34.0,61.2" fill="#e6a645"/>
<polygon points="29.2,55.7 34.0,61.2 27.6,63.1" fill="#379bd8"/>
<polygon points="35.2,55.9 44.6,57.2 34.0,61.2" fill="#c0651a"/>
<polygon points="44.6,57.2 40.9,64.3 34.0,61.2" fill="#54534f"/>
<polygon points="44.6,57.2 51.3,58.7 46.1,63.3" fill="#e6a645"/>
<polygon points="44.6,57.2 46.1,63.3 40.9,64.3" fill="#43332a"/>
<polygon points="51.3,58.7 54.6,56.4 46.1,63.3" fill="#5a4a3c"/>
<polygon points="54.6,56.4 55.6,60.1 46.1,63.3" fill="#f0a038"/>
<polygon points="54.6,56.4 65.7,58.0 55.6,60.1" fill="#e08a2a"/>
<polygon points="65.7,58.0 62.0,63.7 55.6,60.1" fill="#f0a038"/>
<polygon points="65.7,58.0 67.8,53.7 62.0,63.7" fill="#43332a"/>
<polygon points="67.8,53.7 70.1,60.4 62.0,63.7" fill="#93918a"/>
<polygon points="67.8,53.7 76.7,53.4 70.1,60.4" fill="#e08a2a"/>
<polygon points="76.7,53.4 79.9,64.7 70.1,60.4" fill="#379bd8"/>
<polygon points="76.7,53.4 82.4,53.4 86.8,60.6" fill="#f0d060"/>
<polygon points="76.7,53.4 86.8,60.6 79.9,64.7" fill="#93918a"/>
<polygon points="82.4,53.4 92.0,57.7 89.6,60.2" fill="#c0651a"/>
<polygon points="82.4,53.4 89.6,60.2 86.8,60.6" fill="#e6a645"/>
<polygon points="92.0,57.7 100.4,53.9 89.6,60.2" fill="#4f9fc4"/>
<polygon points="100.4,53.9 99.7,61.6 89.6,60.2" fill="#bdbcb4"/>
<polygon points="100.4,53.9 106.3,57.0 99.7,61.6" fill="#33261d"/>
<polygon points="106.3,57.0 102.8,62.5 99.7,61.6" fill="#d8d8d0"/>
<polygon points="106.3,57.0 109.9,58.3 102.8,62.5" fill="#54534f"/>
<polygon points="109.9,58.3 114.5,64.9 102.8,62.5" fill="#3f8fb8"/>
<polygon points="109.9,58.3 119.0,58.8 119.0,61.6" fill="#4f392b"/>
<polygon points="109.9,58.3 119.0,61.6 114.5,64.9" fill="#5a4a3c"/>
<polygon points="0.0,61.3 9.7,62.4 0.0,67.9" fill="#1d4f80"/>
<polygon points="9.7,62.4 9.5,70.4 0.0,67.9" fill="#4f9fc4"/>
<polygon points="9.7,62.4 13.9,65.9 9.5,70.4" fill="#4f9fc4"/>
<polygon points="13.9,65.9 15.2,67.5 9.5,70.4" fill="#4f392b"/>
<polygon points="13.9,65.9 23.0,61.0 15.2,67.5" fill="#379bd8"/>
<polygon points="23.0,61.0 18.3,71.1 15.2,67.5" fill="#f0d060"/>
<polygon points="23.0,61.0 27.6,63.1 18.3,71.1" fill="#8a4a1c"/>
<polygon points="27.6,63.1 27.6,67.4 18.3,71.1" fill="#93918a"/>
<polygon points="27.6,63.1 34.0,61.2 27.6,67.4" fill="#e6a645"/>
<polygon points="34.0,61.2 37.6,70.8 27.6,67.4" fill="#5a4a3c"/>
<polygon points="34.0,61.2 40.9,64.3 37.6,70.8" fill="#e6a645"/>
<polygon points="40.9,64.3 43.8,67.5 37.6,70.8" fill="#4f9fc4"/>
<polygon points="40.9,64.3 46.1,63.3 51.1,67.4" fill="#cf7420"/>
<polygon points="40.9,64.3 51.1,67.4 43.8,67.5" fill="#e08a2a"/>
<polygon points="46.1,63.3 55.6,60.1 58.2,69.7" fill="#bdbcb4"/>
<polygon points="46.1,63.3 58.2,69.7 51.1,67.4" fill="#e6a645"/>
<polygon points="55.6,60.1 62.0,63.7 62.0,70.3" fill="#f0a038"/>
<polygon points="55.6,60.1 62.0,70.3 58.2,69.7" fill="#43332a"/>
<polygon points="62.0,63.7 70.1,60.4 62.0,70.3" fill="#cf7420"/>
<polygon points="70.1,60.4 72.6,68.6 62.0,70.3" fill="#8a4a1c"/>
<polygon points="70.1,60.4 79.9,64.7 72.6,68.6" fill="#85847f"/>
<polygon points="79.9,64.7 74.8,70.2 72.6,68.6" fill="#379bd8"/>
<polygon points="79.9,64.7 86.8,60.6 74.8,70.2" fill="#5a4a3c"/>
<polygon points="86.8,60.6 82.4,67.7 74.8,70.2" fill="#33261d"/>
<polygon points="86.8,60.6 89.6,60.2 82.4,67.7" fill="#54534f"/>
<polygon points="89.6,60.2 89.0,67.3 82.4,67.7" fill="#65645f"/>
<polygon points="89.6,60.2 99.7,61.6 89.0,67.3" fill="#2672ae"/>
<polygon points="99.7,61.6 96.2,68.9 89.0,67.3" fill="#5a4a3c"/>
<polygon points="99.7,61.6 102.8,62.5 96.2,68.9" fill="#cf7420"/>
<polygon points="102.8,62.5 103.8,71.6 96.2,68.9" fill="#8a4a1c"/>
<polygon points="102.8,62.5 114.5,64.9 110.7,70.0" fill="#8a4a1c"/>
<polygon points="102.8,62.5 110.7,70.0 103.8,71.6" fill="#4f392b"/>
<polygon points="114.5,64.9 119.0,61.6 110.7,70.0" fill="#72716d"/>
<polygon points="119.0,61.6 119.0,68.1 110.7,70.0" fill="#e6a645"/>
<polygon points="0.0,67.9 9.5,70.4 0.0,76.1" fill="#4f392b"/>
<polygon points="9.5,70.4 4.1,75.5 0.0,76.1" fill="#4f9fc4"/>
<polygon points="9.5,70.4 15.2,67.5 4.1,75.5" fill="#2672ae"/>
<polygon points="15.2,67.5 11.1,78.4 4.1,75.5" fill="#1a64a8"/>
<polygon points="15.2,67.5 18.3,71.1 11.1,78.4" fill="#379bd8"/>
<polygon points="18.3,71.1 21.3,75.1 11.1,78.4" fill="#72716d"/>
<polygon points="18.3,71.1 27.6,67.4 27.8,79.6" fill="#4f392b"/>
<polygon points="18.3,71.1 27.8,79.6 21.3,75.1" fill="#26262c"/>
<polygon points="27.6,67.4 37.6,70.8 27.8,79.6" fill="#a85216"/>
<polygon points="37.6,70.8 32.6,78.9 27.8,79.6" fill="#5a4a3c"/>
<polygon points="37.6,70.8 43.8,67.5 32.6,78.9" fill="#a85216"/>
<polygon points="43.8,67.5 41.6,77.0 32.6,78.9" fill="#33261d"/>
<polygon points="43.8,67.5 51.1,67.4 41.6,77.0" fill="#54534f"/>
<polygon points="51.1,67.4 51.0,76.4 41.6,77.0" fill="#26262c"/>
<polygon points="51.1,67.4 58.2,69.7 51.0,76.4" fill="#e8e0d0"/>
<polygon points="58.2,69.7 56.0,78.1 51.0,76.4" fill="#a09f98"/>
<polygon points="58.2,69.7 62.0,70.3 56.0,78.1" fill="#a85216"/>
<polygon points="62.0,70.3 65.9,76.1 56.0,78.1" fill="#d8d070"/>
<polygon points="62.0,70.3 72.6,68.6 72.0,78.2" fill="#93918a"/>
<polygon points="62.0,70.3 72.0,78.2 65.9,76.1" fill="#85847f"/>
<polygon points="72.6,68.6 74.8,70.2 72.0,78.2" fill="#54534f"/>
<polygon points="74.8,70.2 77.8,76.4 72.0,78.2" fill="#93918a"/>
<polygon points="74.8,70.2 82.4,67.7 83.1,74.3" fill="#f0a038"/>
<polygon points="74.8,70.2 83.1,74.3 77.8,76.4" fill="#85847f"/>
<polygon points="82.4,67.7 89.0,67.3 83.1,74.3" fill="#1a64a8"/>
<polygon points="89.0,67.3 88.8,74.4 83.1,74.3" fill="#93918a"/>
<polygon points="89.0,67.3 96.2,68.9 99.4,75.5" fill="#c0651a"/>
<polygon points="89.0,67.3 99.4,75.5 88.8,74.4" fill="#bdbcb4"/>
<polygon points="96.2,68.9 103.8,71.6 99.4,75.5" fill="#4f392b"/>
<polygon points="103.8,71.6 103.0,74.5 99.4,75.5" fill="#bdbcb4"/>
<polygon points="103.8,71.6 110.7,70.0 114.0,79.2" fill="#a09f98"/>
<polygon points="103.8,71.6 114.0,79.2 103.0,74.5" fill="#72716d"/>
<polygon points="110.7,70.0 119.0,68.1 114.0,79.2" fill="#85847f"/>
<polygon points="119.0,68.1 119.0,78.0 114.0,79.2" fill="#8a4a1c"/>
<polygon points="0.0,76.1 4.1,75.5 5.5,82.8" fill="#3f8fb8"/>
<polygon points="0.0,76.1 5.5,82.8 0.0,82.7" fill="#e6a645"/>
<polygon points="4.1,75.5 11.1,78.4 13.8,81.9" fill="#bdbcb4"/>
<polygon points="4.1,75.5 13.8,81.9 5.5,82.8" fill="#2a86d0"/>
<polygon points="11.1,78.4 21.3,75.1 13.8,81.9" fill="#cf7420"/>
<polygon points="21.3,75.1 20.7,82.6 13.8,81.9" fill="#379bd8"/>
<polygon points="21.3,75.1 27.8,79.6 20.7,82.6" fill="#33261d"/>
<polygon points="27.8,79.6 30.8,86.8 20.7,82.6" fill="#a85216"/>
<polygon points="27.8,79.6 32.6,78.9 35.3,82.5" fill="#379bd8"/>
<polygon points="27.8,79.6 35.3,82.5 30.8,86.8" fill="#a85216"/>
<polygon points="32.6,78.9 41.6,77.0 44.8,82.9" fill="#65645f"/>
<polygon points="32.6,78.9 44.8,82.9 35.3,82.5" fill="#e08a2a"/>
<polygon points="41.6,77.0 51.0,76.4 44.8,82.9" fill="#3f8fb8"/>
<polygon points="51.0,76.4 48.1,81.0 44.8,82.9" fill="#1e1c1f"/>
<polygon points="51.0,76.4 56.0,78.1 55.3,83.8" fill="#54534f"/>
<polygon points="51.0,76.4 55.3,83.8 48.1,81.0" fill="#48474a"/>
<polygon points="56.0,78.1 65.9,76.1 55.3,83.8" fill="#65645f"/>
<polygon points="65.9,76.1 63.0,82.2 55.3,83.8" fill="#a09f98"/>
<polygon points="65.9,76.1 72.0,78.2 63.0,82.2" fill="#a09f98"/>
<polygon points="72.0,78.2 70.0,81.0 63.0,82.2" fill="#72716d"/>
<polygon points="72.0,78.2 77.8,76.4 75.6,81.5" fill="#54534f"/>
<polygon points="72.0,78.2 75.6,81.5 70.0,81.0" fill="#72716d"/>
<polygon points="77.8,76.4 83.1,74.3 75.6,81.5" fill="#f0d060"/>
<polygon points="83.1,74.3 83.4,81.3 75.6,81.5" fill="#e6a645"/>
<polygon points="83.1,74.3 88.8,74.4 83.4,81.3" fill="#bdbcb4"/>
<polygon points="88.8,74.4 88.1,82.8 83.4,81.3" fill="#4f392b"/>
<polygon points="88.8,74.4 99.4,75.5 96.4,84.5" fill="#93918a"/>
<polygon points="88.8,74.4 96.4,84.5 88.1,82.8" fill="#cf7420"/>
<polygon points="99.4,75.5 103.0,74.5 96.4,84.5" fill="#48474a"/>
<polygon points="103.0,74.5 105.2,85.5 96.4,84.5" fill="#85847f"/>
<polygon points="103.0,74.5 114.0,79.2 112.9,85.3" fill="#bdbcb4"/>
<polygon points="103.0,74.5 112.9,85.3 105.2,85.5" fill="#72716d"/>
<polygon points="114.0,79.2 119.0,78.0 119.0,86.3" fill="#a09f98"/>
<polygon points="114.0,79.2 119.0,86.3 112.9,85.3" fill="#65645f"/>
<polygon points="0.0,82.7 5.5,82.8 0.0,90.3" fill="#2a86d0"/>
<polygon points="5.5,82.8 6.0,93.9 0.0,90.3" fill="#65645f"/>
<polygon points="5.5,82.8 13.8,81.9 6.0,93.9" fill="#2a86d0"/>
<polygon points="13.8,81.9 11.9,92.3 6.0,93.9" fill="#379bd8"/>
<polygon points="13.8,81.9 20.7,82.6 21.9,88.3" fill="#a09f98"/>
<polygon points="13.8,81.9 21.9,88.3 11.9,92.3" fill="#a09f98"/>
<polygon points="20.7,82.6 30.8,86.8 30.0,93.4" fill="#4f392b"/>
<polygon points="20.7,82.6 30.0,93.4 21.9,88.3" fill="#5a4a3c"/>
<polygon points="30.8,86.8 35.3,82.5 35.8,92.4" fill="#54534f"/>
<polygon points="30.8,86.8 35.8,92.4 30.0,93.4" fill="#379bd8"/>
<polygon points="35.3,82.5 44.8,82.9 35.8,92.4" fill="#1d4f80"/>
<polygon points="44.8,82.9 43.9,88.8 35.8,92.4" fill="#5a4a3c"/>
<polygon points="44.8,82.9 48.1,81.0 49.1,91.0" fill="#1e1c1f"/>
<polygon points="44.8,82.9 49.1,91.0 43.9,88.8" fill="#43332a"/>
<polygon points="48.1,81.0 55.3,83.8 49.1,91.0" fill="#8a4a1c"/>
<polygon points="55.3,83.8 58.0,92.8 49.1,91.0" fill="#72716d"/>
<polygon points="55.3,83.8 63.0,82.2 58.0,92.8" fill="#85847f"/>
<polygon points="63.0,82.2 65.0,91.5 58.0,92.8" fill="#72716d"/>
<polygon points="63.0,82.2 70.0,81.0 65.0,91.5" fill="#26262c"/>
<polygon points="70.0,81.0 72.4,92.1 65.0,91.5" fill="#3a312a"/>
<polygon points="70.0,81.0 75.6,81.5 78.2,89.4" fill="#3a312a"/>
<polygon points="70.0,81.0 78.2,89.4 72.4,92.1" fill="#5a4a3c"/>
<polygon points="75.6,81.5 83.4,81.3 78.2,89.4" fill="#a09f98"/>
<polygon points="83.4,81.3 81.2,88.8 78.2,89.4" fill="#85847f"/>
<polygon points="83.4,81.3 88.1,82.8 90.2,88.6" fill="#a09f98"/>
<polygon points="83.4,81.3 90.2,88.6 81.2,88.8" fill="#72716d"/>
<polygon points="88.1,82.8 96.4,84.5 90.2,88.6" fill="#379bd8"/>
<polygon points="96.4,84.5 100.0,91.4 90.2,88.6" fill="#85847f"/>
<polygon points="96.4,84.5 105.2,85.5 100.0,91.4" fill="#48474a"/>
<polygon points="105.2,85.5 105.8,91.8 100.0,91.4" fill="#65645f"/>
<polygon points="105.2,85.5 112.9,85.3 113.1,90.9" fill="#72716d"/>
<polygon points="105.2,85.5 113.1,90.9 105.8,91.8" fill="#65645f"/>
<polygon points="112.9,85.3 119.0,86.3 113.1,90.9" fill="#bdbcb4"/>
<polygon points="119.0,86.3 119.0,88.0 113.1,90.9" fill="#a09f98"/>
<polygon points="0.0,90.3 6.0,93.9 8.5,98.0" fill="#43332a"/>
<polygon points="0.0,90.3 8.5,98.0 0.0,99.8" fill="#1e1c1f"/>
<polygon points="6.0,93.9 11.9,92.3 14.2,99.0" fill="#1a64a8"/>
<polygon points="6.0,93.9 14.2,99.0 8.5,98.0" fill="#4f9fc4"/>
<polygon points="11.9,92.3 21.9,88.3 18.4,99.4" fill="#1e1c1f"/>
<polygon points="11.9,92.3 18.4,99.4 14.2,99.0" fill="#3f8fb8"/>
<polygon points="21.9,88.3 30.0,93.4 18.4,99.4" fill="#1a64a8"/>
<polygon points="30.0,93.4 26.5,95.4 18.4,99.4" fill="#2672ae"/>
<polygon points="30.0,93.4 35.8,92.4 33.6,99.4" fill="#3f8fb8"/>
<polygon points="30.0,93.4 33.6,99.4 26.5,95.4" fill="#4f9fc4"/>
<polygon points="35.8,92.4 43.9,88.8 33.6,99.4" fill="#85847f"/>
<polygon points="43.9,88.8 40.2,99.4 33.6,99.4" fill="#1a64a8"/>
<polygon points="43.9,88.8 49.1,91.0 51.9,98.0" fill="#43332a"/>
<polygon points="43.9,88.8 51.9,98.0 40.2,99.4" fill="#1e1c1f"/>
<polygon points="49.1,91.0 58.0,92.8 51.9,98.0" fill="#72716d"/>
<polygon points="58.0,92.8 55.3,97.9 51.9,98.0" fill="#65645f"/>
<polygon points="58.0,92.8 65.0,91.5 55.3,97.9" fill="#bdbcb4"/>
<polygon points="65.0,91.5 64.1,99.6 55.3,97.9" fill="#72716d"/>
<polygon points="65.0,91.5 72.4,92.1 64.1,99.6" fill="#65645f"/>
<polygon points="72.4,92.1 70.7,98.9 64.1,99.6" fill="#bdbcb4"/>
<polygon points="72.4,92.1 78.2,89.4 74.5,95.9" fill="#93918a"/>
<polygon points="72.4,92.1 74.5,95.9 70.7,98.9" fill="#93918a"/>
<polygon points="78.2,89.4 81.2,88.8 82.5,99.5" fill="#a09f98"/>
<polygon points="78.2,89.4 82.5,99.5 74.5,95.9" fill="#a09f98"/>
<polygon points="81.2,88.8 90.2,88.6 82.5,99.5" fill="#65645f"/>
<polygon points="90.2,88.6 89.8,98.4 82.5,99.5" fill="#1e1c1f"/>
<polygon points="90.2,88.6 100.0,91.4 89.8,98.4" fill="#a09f98"/>
<polygon points="100.0,91.4 95.1,95.4 89.8,98.4" fill="#a09f98"/>
<polygon points="100.0,91.4 105.8,91.8 95.1,95.4" fill="#43332a"/>
<polygon points="105.8,91.8 103.6,99.0 95.1,95.4" fill="#cf7420"/>
<polygon points="105.8,91.8 113.1,90.9 113.2,99.1" fill="#bdbcb4"/>
<polygon points="105.8,91.8 113.2,99.1 103.6,99.0" fill="#72716d"/>
<polygon points="113.1,90.9 119.0,88.0 113.2,99.1" fill="#54534f"/>
<polygon points="119.0,88.0 119.0,96.7 113.2,99.1" fill="#379bd8"/>
<polygon points="0.0,99.8 8.5,98.0 6.8,104.8" fill="#2672ae"/>
<polygon points="0.0,99.8 6.8,104.8 0.0,105.1" fill="#54534f"/>
<polygon points="8.5,98.0 14.2,99.0 11.7,107.4" fill="#bdbcb4"/>
<polygon points="8.5,98.0 11.7,107.4 6.8,104.8" fill="#a09f98"/>
<polygon points="14.2,99.0 18.4,99.4 11.7,107.4" fill="#3f8fb8"/>
<polygon points="18.4,99.4 19.2,107.9 11.7,107.4" fill="#54534f"/>
<polygon points="18.4,99.4 26.5,95.4 19.2,107.9" fill="#3f8fb8"/>
<polygon points="26.5,95.4 30.6,102.1 19.2,107.9" fill="#72716d"/>
<polygon points="26.5,95.4 33.6,99.4 34.8,106.9" fill="#e08a2a"/>
<polygon points="26.5,95.4 34.8,106.9 30.6,102.1" fill="#54534f"/>
<polygon points="33.6,99.4 40.2,99.4 44.8,104.7" fill="#65645f"/>
<polygon points="33.6,99.4 44.8,104.7 34.8,106.9" fill="#26262c"/>
<polygon points="40.2,99.4 51.9,98.0 47.6,103.3" fill="#48474a"/>
<polygon points="40.2,99.4 47.6,103.3 44.8,104.7" fill="#33261d"/>
<polygon points="51.9,98.0 55.3,97.9 47.6,103.3" fill="#65645f"/>
<polygon points="55.3,97.9 58.7,103.3 47.6,103.3" fill="#bdbcb4"/>
<polygon points="55.3,97.9 64.1,99.6 63.5,102.9" fill="#48474a"/>
<polygon points="55.3,97.9 63.5,102.9 58.7,103.3" fill="#48474a"/>
<polygon points="64.1,99.6 70.7,98.9 70.1,107.7" fill="#93918a"/>
<polygon points="64.1,99.6 70.1,107.7 63.5,102.9" fill="#54534f"/>
<polygon points="70.7,98.9 74.5,95.9 74.8,106.9" fill="#65645f"/>
<polygon points="70.7,98.9 74.8,106.9 70.1,107.7" fill="#a09f98"/>
<polygon points="74.5,95.9 82.5,99.5 84.1,107.3" fill="#85847f"/>
<polygon points="74.5,95.9 84.1,107.3 74.8,106.9" fill="#54534f"/>
<polygon points="82.5,99.5 89.8,98.4 84.1,107.3" fill="#4f9fc4"/>
<polygon points="89.8,98.4 92.2,103.4 84.1,107.3" fill="#1e1c1f"/>
<polygon points="89.8,98.4 95.1,95.4 100.4,104.9" fill="#72716d"/>
<polygon points="89.8,98.4 100.4,104.9 92.2,103.4" fill="#72716d"/>
<polygon points="95.1,95.4 103.6,99.0 102.1,102.0" fill="#3a312a"/>
<polygon points="95.1,95.4 102.1,102.0 100.4,104.9" fill="#d8d070"/>
<polygon points="103.6,99.0 113.2,99.1 102.1,102.0" fill="#a09f98"/>
<polygon points="113.2,99.1 112.0,104.7 102.1,102.0" fill="#1e1c1f"/>
<polygon points="113.2,99.1 119.0,96.7 112.0,104.7" fill="#bdbcb4"/>
<polygon points="119.0,96.7 119.0,103.8 112.0,104.7" fill="#4f392b"/>
<polygon points="0.0,105.1 6.8,104.8 0.0,109.8" fill="#54534f"/>
<polygon points="6.8,104.8 6.1,110.9 0.0,109.8" fill="#c0651a"/>
<polygon points="6.8,104.8 11.7,107.4 16.0,109.0" fill="#48474a"/>
<polygon points="6.8,104.8 16.0,109.0 6.1,110.9" fill="#1d4f80"/>
<polygon points="11.7,107.4 19.2,107.9 16.0,109.0" fill="#72716d"/>
<polygon points="19.2,107.9 22.5,114.0 16.0,109.0" fill="#e8e0d0"/>
<polygon points="19.2,107.9 30.6,102.1 22.5,114.0" fill="#5a4a3c"/>
<polygon points="30.6,102.1 25.7,114.6 22.5,114.0" fill="#379bd8"/>
<polygon points="30.6,102.1 34.8,106.9 36.3,114.4" fill="#4f9fc4"/>
<polygon points="30.6,102.1 36.3,114.4 25.7,114.6" fill="#3f8fb8"/>
<polygon points="34.8,106.9 44.8,104.7 36.3,114.4" fill="#4f392b"/>
<polygon points="44.8,104.7 40.7,111.2 36.3,114.4" fill="#5a4a3c"/>
<polygon points="44.8,104.7 47.6,103.3 40.7,111.2" fill="#2672ae"/>
<polygon points="47.6,103.3 48.4,115.0 40.7,111.2" fill="#5a4a3c"/>
<polygon points="47.6,103.3 58.7,103.3 56.5,111.2" fill="#93918a"/>
<polygon points="47.6,103.3 56.5,111.2 48.4,115.0" fill="#85847f"/>
<polygon points="58.7,103.3 63.5,102.9 62.6,110.7" fill="#a09f98"/>
<polygon points="58.7,103.3 62.6,110.7 56.5,111.2" fill="#72716d"/>
<polygon points="63.5,102.9 70.1,107.7 67.3,109.6" fill="#bdbcb4"/>
<polygon points="63.5,102.9 67.3,109.6 62.6,110.7" fill="#48474a"/>
<polygon points="70.1,107.7 74.8,106.9 67.3,109.6" fill="#54534f"/>
<polygon points="74.8,106.9 79.0,110.7 67.3,109.6" fill="#4f392b"/>
<polygon points="74.8,106.9 84.1,107.3 86.6,110.5" fill="#a09f98"/>
<polygon points="74.8,106.9 86.6,110.5 79.0,110.7" fill="#72716d"/>
<polygon points="84.1,107.3 92.2,103.4 86.6,110.5" fill="#a09f98"/>
<polygon points="92.2,103.4 89.6,112.1 86.6,110.5" fill="#43332a"/>
<polygon points="92.2,103.4 100.4,104.9 96.1,111.2" fill="#a09f98"/>
<polygon points="92.2,103.4 96.1,111.2 89.6,112.1" fill="#bdbcb4"/>
<polygon points="100.4,104.9 102.1,102.0 107.7,114.3" fill="#85847f"/>
<polygon points="100.4,104.9 107.7,114.3 96.1,111.2" fill="#65645f"/>
<polygon points="102.1,102.0 112.0,104.7 113.9,112.8" fill="#65645f"/>
<polygon points="102.1,102.0 113.9,112.8 107.7,114.3" fill="#85847f"/>
<polygon points="112.0,104.7 119.0,103.8 113.9,112.8" fill="#48474a"/>
<polygon points="119.0,103.8 119.0,114.5 113.9,112.8" fill="#48474a"/>
<polygon points="43.6,67.8 39.0,66.8 39.4,69.9" fill="#e8e0d0"/>
<polygon points="7.1,54.6 -0.9,60.8 1.7,63.2" fill="#d8d8d0"/>
<polygon points="57.6,69.1 53.1,68.9 54.1,72.1" fill="#f0d060"/>
<polygon points="39.9,92.5 41.4,99.4 44.0,98.2" fill="#d8d070"/>
<polygon points="34.3,65.9 36.5,69.7 38.1,68.1" fill="#1a1a20"/>
<polygon points="90.3,62.1 88.8,67.7 91.6,67.7" fill="#d8d070"/>
<polygon points="72.4,87.2 74.4,92.9 76.4,91.8" fill="#d8d8d0"/>
<polygon points="85.8,39.9 78.7,46.0 80.9,47.9" fill="#e8e0d0"/>
<polygon points="46.0,49.8 54.7,52.4 55.1,49.7" fill="#e8e0d0"/>
<polygon points="86.3,94.3 82.2,101.0 85.1,102.1" fill="#d8d8d0"/>
<polygon points="26.9,83.7 27.1,92.3 28.9,92.0" fill="#f0d060"/>
<polygon points="94.5,62.6 103.4,66.4 103.9,64.8" fill="#f0d060"/>
<polygon points="86.0,72.5 89.1,77.7 91.0,75.9" fill="#1a1a20"/>
<polygon points="7.1,79.4 3.4,88.2 6.1,88.9" fill="#58c0e8"/>
<polygon points="9.1,59.0 1.8,61.6 4.0,64.7" fill="#f8b850"/>
<polygon points="11.9,85.5 7.5,94.6 10.6,95.5" fill="#f0d060"/>
<polygon points="54.0,65.5 61.1,69.0 61.8,67.0" fill="#f0d060"/>
<polygon points="69.6,64.7 77.5,66.9 77.6,63.0" fill="#d8d8d0"/>
<polygon points="27.5,56.7 26.5,62.4 29.4,62.2" fill="#f8b850"/>
<polygon points="80.6,49.7 88.8,52.7 89.4,49.5" fill="#f0d060"/>
<polygon points="80.2,43.4 75.7,50.5 78.2,51.5" fill="#e8c050"/>
<polygon points="99.1,37.7 103.2,40.0 103.6,36.3" fill="#d8d8d0"/>
<polygon points="45.1,61.5 40.3,70.2 43.8,71.3" fill="#e8e0d0"/>
<polygon points="37.6,97.3 32.3,101.8 33.9,103.1" fill="#d8d8d0"/>
<polygon points="42.4,80.5 38.7,85.9 41.0,86.9" fill="#f8b850"/>
<polygon points="102.3,85.7 100.3,91.1 102.0,91.5" fill="#1a1a20"/>
</g>
<polygon points="0,104 0,45.0 4,47.5 8,50.0 12,51.7 16,52.6 20,50.8 24,49.0 28,47.5 32,46.0 36,44.5 40,42.9 44,41.4 48,40.1 52,38.8 56,37.6 60,36.5 64,35.5 68,35.2 72,35.7 76,35.8 80,35.2 84,34.6 88,34.0 92,33.0 96,32.0 100,31.0 104,30.0 108,29.0 112,28.0 112,104" fill="#1a2230" fill-opacity=".2"/>
</svg>
<div class="av1" style="left:823.8px"><svg width="40" height="40" viewBox="0 0 40 40" style="position:static">
<defs><radialGradient id="wbg2" cx=".45" cy=".4" r=".7"><stop offset="0" stop-color="#e2dee8"/><stop offset="1" stop-color="#d6d2dd"/></radialGradient></defs>
<rect width="40" height="40" fill="url(#wbg2)"/>
<path d="M3 40C4 33 7 28 13 25L16 23.5L26 24C29 26 31 30 31 40Z" fill="#f0ece6"/>
<path d="M15.5 19L16 26C16.5 30 18 34 20 36C21.5 33 23 29 24.5 25L23 20Z" fill="#d4ad9b"/>
<path d="M13 25.5L16 23.5C16.5 28 18 33 20 36L17 40H9C10 34 11 29 13 25.5Z" fill="#f7f5f1"/>
<path d="M24.5 24.5L27 25.5C29 29 30 34 30 40H22C22.5 35 23.5 29 24.5 24.5Z" fill="#f4f1ec"/>
<ellipse cx="21.4" cy="8.6" rx="7.3" ry="6" fill="#2a1e1b"/><ellipse cx="21.2" cy="14.6" rx="6.4" ry="7.6" fill="#dcb9a8" transform="rotate(-8 21.2 14.6)"/>
<path d="M14.2 12C13.2 6.5 16.5 2.6 21.5 2.6C26.5 2.6 29.3 6 28.8 10.5C27.5 7.8 24.5 6.4 21 7C17.8 7.6 15.6 9.6 15.2 13.5Z" fill="#2a1e1b"/>
<path d="M17.5 12.2h3M23.5 12h2.6" stroke="#6b4a40" stroke-width=".7" fill="none"/>
<path d="M21.5 19.2h2.6" stroke="#b5615a" stroke-width=".9" fill="none"/>
<ellipse cx="18.2" cy="36.6" rx="4.8" ry="3.6" fill="#a5131d"/>
<path d="M15.5 36c1.5-1.5 3.5-1.500 5 .2M16.500 38c1.500.8 3 .6 4.200-.6" stroke="#7a0c14" stroke-width=".8" fill="none"/>
</svg></div>
<div class="abs" style="left:851.8px;top:894px;width:16px;height:12px;border-radius:4px;background:#fff"></div>
<div class="abs" style="left:852.8px;top:895px;width:14px;height:10px;border-radius:3px;background:#f0142f"></div>
<svg style="left:857.8px;top:897px" width="5" height="6" viewBox="0 0 5 6"><path d="M0.3 0.3L4.7 3L0.3 5.7Z" fill="#fff"/></svg>
<div class="t pn" style="left:871.8px" >@olivia.rhye</div>
<div class="t pd" style="left:871.8px" >3 days ago</div>
<svg style="left:1007.5px;top:874.500px" width="20" height="20" viewBox="0 0 20 20" fill="#a4a7ae"><circle cx="10" cy="3.8" r="1.5"/><circle cx="10" cy="10" r="1.5"/><circle cx="10" cy="16.2" r="1.5"/></svg>
<div class="t pt" style="left:828px" >#HelloFrom Rowena Crest,<br>Oregon. We are dreaming of</div>

<!-- post 3 -->
<div class="abs" style="left:1051.2px;top:855.4px;width:337.5px;height:140px;border:1px solid #d5d7da;border-radius:12px;background:#fff"></div>
<div class="abs" style="left:1167.8px;top:857px;width:1px;height:110px;background:#d5d7da"></div>
<div class="abs" style="left:1168.8px;top:912px;width:219px;height:1px;background:#d5d7da"></div>
<svg style="left:1053.9px;top:858px;border-radius:9px 2px 0 0;overflow:hidden" width="111.6" height="104" viewBox="0 0 112 104" preserveAspectRatio="none">
<defs><linearGradient id="sky3" x1="0" y1="0" x2="0" y2="1"><stop offset="0" stop-color="#2f7fce"/><stop offset=".3" stop-color="#5883be"/><stop offset=".6" stop-color="#8a86a5"/><stop offset=".85" stop-color="#a9939c"/><stop offset="1" stop-color="#b59c9c"/></linearGradient><filter id="bl3" x="-5%" y="-5%" width="110%" height="110%"><feGaussianBlur stdDeviation=".55"/></filter></defs>
<rect width="112" height="60" fill="url(#sky3)"/>
<polygon points="0,104 0,45.0 4,47.5 8,50.0 12,51.7 16,52.6 20,50.8 24,49.0 28,47.5 32,46.0 36,44.5 40,42.9 44,41.4 48,40.1 52,38.8 56,37.6 60,36.5 64,35.5 68,35.2 72,35.7 76,35.8 80,35.2 84,34.6 88,34.0 92,33.0 96,32.0 100,31.0 104,30.0 108,29.0 112,28.0 112,104" fill="#7a6a58"/>
<g filter="url(#bl3)">
<polygon points="86.9,31.9 93.4,37.0 82.2,35.7" fill="#85847f"/>
<polygon points="97.2,31.3 97.9,35.9 93.4,37.0" fill="#e08a2a"/>
<polygon points="97.2,30.8 106.8,32.5 97.9,35.9" fill="#1a64a8"/>
<polygon points="106.6,28.2 113.7,27.0 113.0,37.5" fill="#1d4f80"/>
<polygon points="106.6,28.2 113.0,37.5 106.8,32.5" fill="#2a86d0"/>
<polygon points="113.7,27.0 119.0,26.3 113.0,37.5" fill="#4f392b"/>
<polygon points="119.0,26.3 119.0,36.7 113.0,37.5" fill="#379bd8"/>
<polygon points="50.2,37.7 55.7,37.6 46.9,44.4" fill="#bdbcb4"/>
<polygon points="55.7,37.6 57.8,39.9 46.9,44.4" fill="#4f9fc4"/>
<polygon points="55.7,37.6 65.9,37.7 65.0,44.9" fill="#e08a2a"/>
<polygon points="55.7,37.6 65.0,44.9 57.8,39.9" fill="#a85216"/>
<polygon points="65.9,37.7 69.2,35.1 70.9,41.1" fill="#cf7420"/>
<polygon points="65.9,37.7 70.9,41.1 65.0,44.9" fill="#f0d060"/>
<polygon points="69.2,33.3 75.4,33.8 70.9,41.1" fill="#54534f"/>
<polygon points="75.4,35.4 77.3,39.8 70.9,41.1" fill="#1e1c1f"/>
<polygon points="75.4,35.7 82.2,35.7 81.1,44.8" fill="#bdbcb4"/>
<polygon points="75.4,35.0 81.1,44.8 77.3,39.8" fill="#4f392b"/>
<polygon points="82.2,35.7 93.4,37.0 81.1,44.8" fill="#c0651a"/>
<polygon points="93.4,37.0 91.9,42.2 81.1,44.8" fill="#2672ae"/>
<polygon points="93.4,37.0 97.9,35.9 91.9,42.2" fill="#379bd8"/>
<polygon points="97.9,35.9 100.6,41.6 91.9,42.2" fill="#3f8fb8"/>
<polygon points="97.9,35.9 106.8,32.5 100.6,41.6" fill="#54534f"/>
<polygon points="106.8,32.5 107.2,44.0 100.6,41.6" fill="#2a86d0"/>
<polygon points="106.8,32.5 113.0,37.5 110.3,40.5" fill="#2a86d0"/>
<polygon points="106.8,32.5 110.3,40.5 107.2,44.0" fill="#65645f"/>
<polygon points="113.0,37.5 119.0,36.7 110.3,40.5" fill="#26262c"/>
<polygon points="119.0,36.7 119.0,40.8 110.3,40.5" fill="#a09f98"/>
<polygon points="0.0,43.5 7.5,48.7 0.0,47.4" fill="#e6a645"/>
<polygon points="37.7,43.3 37.4,48.5 27.7,49.5" fill="#c0651a"/>
<polygon points="37.7,43.3 40.0,42.6 37.4,48.5" fill="#2a86d0"/>
<polygon points="40.0,41.9 44.5,49.0 37.4,48.5" fill="#f0d060"/>
<polygon points="40.0,40.6 46.9,44.4 49.2,49.1" fill="#8a4a1c"/>
<polygon points="40.0,40.5 49.2,49.1 44.5,49.0" fill="#43332a"/>
<polygon points="46.9,44.4 57.8,39.9 49.2,49.1" fill="#4f392b"/>
<polygon points="57.8,39.9 53.1,48.6 49.2,49.1" fill="#cf7420"/>
<polygon points="57.8,39.9 65.0,44.9 53.1,48.6" fill="#cf7420"/>
<polygon points="65.0,44.9 61.1,46.0 53.1,48.6" fill="#4f9fc4"/>
<polygon points="65.0,44.9 70.9,41.1 61.1,46.0" fill="#54534f"/>
<polygon points="70.9,41.1 71.8,47.0 61.1,46.0" fill="#2a86d0"/>
<polygon points="70.9,41.1 77.3,39.8 71.8,47.0" fill="#33261d"/>
<polygon points="77.3,39.8 76.8,50.4 71.8,47.0" fill="#a85216"/>
<polygon points="77.3,39.8 81.1,44.8 76.8,50.4" fill="#93918a"/>
<polygon points="81.1,44.8 84.3,48.0 76.8,50.4" fill="#e6a645"/>
<polygon points="81.1,44.8 91.9,42.2 84.3,48.0" fill="#1e1c1f"/>
<polygon points="91.9,42.2 91.1,49.3 84.3,48.0" fill="#c0651a"/>
<polygon points="91.9,42.2 100.6,41.6 91.1,49.3" fill="#a09f98"/>
<polygon points="100.6,41.6 99.7,46.6 91.1,49.3" fill="#379bd8"/>
<polygon points="100.6,41.6 107.2,44.0 99.7,46.6" fill="#48474a"/>
<polygon points="107.2,44.0 105.4,47.5 99.7,46.6" fill="#d8d070"/>
<polygon points="107.2,44.0 110.3,40.5 110.7,50.6" fill="#5a4a3c"/>
<polygon points="107.2,44.0 110.7,50.6 105.4,47.5" fill="#4f9fc4"/>
<polygon points="110.3,40.5 119.0,40.8 110.7,50.6" fill="#1e1c1f"/>
<polygon points="119.0,40.8 119.0,49.0 110.7,50.6" fill="#3f8fb8"/>
<polygon points="0.0,47.4 7.5,47.9 8.6,58.5" fill="#93918a"/>
<polygon points="0.0,47.4 8.6,58.5 0.0,56.4" fill="#a09f98"/>
<polygon points="7.5,48.5 13.7,56.7 8.6,58.5" fill="#cf7420"/>
<polygon points="23.5,48.1 21.0,56.1 13.7,56.7" fill="#2672ae"/>
<polygon points="23.5,48.1 27.7,49.5 29.2,55.7" fill="#cf7420"/>
<polygon points="23.5,48.1 29.2,55.7 21.0,56.1" fill="#33261d"/>
<polygon points="27.7,49.5 37.4,48.5 29.2,55.7" fill="#2a86d0"/>
<polygon points="37.4,48.5 35.2,55.9 29.2,55.7" fill="#a85216"/>
<polygon points="37.4,48.5 44.5,49.0 44.6,57.2" fill="#f0a038"/>
<polygon points="37.4,48.5 44.6,57.2 35.2,55.9" fill="#e6a645"/>
<polygon points="44.5,49.0 49.2,49.1 51.3,58.7" fill="#e6a645"/>
<polygon points="44.5,49.0 51.3,58.7 44.6,57.2" fill="#1e1c1f"/>
<polygon points="49.2,49.1 53.1,48.6 54.6,56.4" fill="#26262c"/>
<polygon points="49.2,49.1 54.6,56.4 51.3,58.7" fill="#e6a645"/>
<polygon points="53.1,48.6 61.1,46.0 54.6,56.4" fill="#c0651a"/>
<polygon points="61.1,46.0 65.7,58.0 54.6,56.4" fill="#f0a038"/>
<polygon points="61.1,46.0 71.8,47.0 65.7,58.0" fill="#c0651a"/>
<polygon points="71.8,47.0 67.8,53.7 65.7,58.0" fill="#3a312a"/>
<polygon points="71.8,47.0 76.8,50.4 67.8,53.7" fill="#1a64a8"/>
<polygon points="76.8,50.4 76.7,53.4 67.8,53.7" fill="#e8e0d0"/>
<polygon points="76.8,50.4 84.3,48.0 82.4,53.4" fill="#cf7420"/>
<polygon points="76.8,50.4 82.4,53.4 76.7,53.4" fill="#e8e0d0"/>
<polygon points="84.3,48.0 91.1,49.3 82.4,53.4" fill="#4f392b"/>
<polygon points="91.1,49.3 92.0,57.7 82.4,53.4" fill="#26262c"/>
<polygon points="91.1,49.3 99.7,46.6 92.0,57.7" fill="#2a86d0"/>
<polygon points="99.7,46.6 100.4,53.9 92.0,57.7" fill="#2672ae"/>
<polygon points="99.7,46.6 105.4,47.5 106.3,57.0" fill="#e08a2a"/>
<polygon points="99.7,46.6 106.3,57.0 100.4,53.9" fill="#1d4f80"/>
<polygon points="105.4,47.5 110.7,50.6 106.3,57.0" fill="#85847f"/>
<polygon points="110.7,50.6 109.9,58.3 106.3,57.0" fill="#2672ae"/>
<polygon points="110.7,50.6 119.0,49.0 119.0,58.8" fill="#2a86d0"/>
<polygon points="110.7,50.6 119.0,58.8 109.9,58.3" fill="#379bd8"/>
<polygon points="0.0,56.4 8.6,58.5 0.0,61.3" fill="#e8e0d0"/>
<polygon points="8.6,58.5 9.7,62.4 0.0,61.3" fill="#1e1c1f"/>
<polygon points="8.6,58.5 13.7,56.7 13.9,65.9" fill="#5a4a3c"/>
<polygon points="8.6,58.5 13.9,65.9 9.7,62.4" fill="#3f8fb8"/>
<polygon points="13.7,56.7 21.0,56.1 13.9,65.9" fill="#33261d"/>
<polygon points="21.0,56.1 23.0,61.0 13.9,65.9" fill="#8a4a1c"/>
<polygon points="21.0,56.1 29.2,55.7 23.0,61.0" fill="#54534f"/>
<polygon points="29.2,55.7 27.6,63.1 23.0,61.0" fill="#cf7420"/>
<polygon points="29.2,55.7 35.2,55.9 34.0,61.2" fill="#e6a645"/>
<polygon points="29.2,55.7 34.0,61.2 27.6,63.1" fill="#379bd8"/>
<polygon points="35.2,55.9 44.6,57.2 34.0,61.2" fill="#c0651a"/>
<polygon points="44.6,57.2 40.9,64.3 34.0,61.2" fill="#54534f"/>
<polygon points="44.6,57.2 51.3,58.7 46.1,63.3" fill="#e6a645"/>
<polygon points="44.6,57.2 46.1,63.3 40.9,64.3" fill="#43332a"/>
<polygon points="51.3,58.7 54.6,56.4 46.1,63.3" fill="#5a4a3c"/>
<polygon points="54.6,56.4 55.6,60.1 46.1,63.3" fill="#f0a038"/>
<polygon points="54.6,56.4 65.7,58.0 55.6,60.1" fill="#e08a2a"/>
<polygon points="65.7,58.0 62.0,63.7 55.6,60.1" fill="#f0a038"/>
<polygon points="65.7,58.0 67.8,53.7 62.0,63.7" fill="#43332a"/>
<polygon points="67.8,53.7 70.1,60.4 62.0,63.7" fill="#93918a"/>
<polygon points="67.8,53.7 76.7,53.4 70.1,60.4" fill="#e08a2a"/>
<polygon points="76.7,53.4 79.9,64.7 70.1,60.4" fill="#379bd8"/>
<polygon points="76.7,53.4 82.4,53.4 86.8,60.6" fill="#f0d060"/>
<polygon points="76.7,53.4 86.8,60.6 79.9,64.7" fill="#93918a"/>
<polygon points="82.4,53.4 92.0,57.7 89.6,60.2" fill="#c0651a"/>
<polygon points="82.4,53.4 89.6,60.2 86.8,60.6" fill="#e6a645"/>
<polygon points="92.0,57.7 100.4,53.9 89.6,60.2" fill="#4f9fc4"/>
<polygon points="100.4,53.9 99.7,61.6 89.6,60.2" fill="#bdbcb4"/>
<polygon points="100.4,53.9 106.3,57.0 99.7,61.6" fill="#33261d"/>
<polygon points="106.3,57.0 102.8,62.5 99.7,61.6" fill="#d8d8d0"/>
<polygon points="106.3,57.0 109.9,58.3 102.8,62.5" fill="#54534f"/>
<polygon points="109.9,58.3 114.5,64.9 102.8,62.5" fill="#3f8fb8"/>
<polygon points="109.9,58.3 119.0,58.8 119.0,61.6" fill="#4f392b"/>
<polygon points="109.9,58.3 119.0,61.6 114.5,64.9" fill="#5a4a3c"/>
<polygon points="0.0,61.3 9.7,62.4 0.0,67.9" fill="#1d4f80"/>
<polygon points="9.7,62.4 9.5,70.4 0.0,67.9" fill="#4f9fc4"/>
<polygon points="9.7,62.4 13.9,65.9 9.5,70.4" fill="#4f9fc4"/>
<polygon points="13.9,65.9 15.2,67.5 9.5,70.4" fill="#4f392b"/>
<polygon points="13.9,65.9 23.0,61.0 15.2,67.5" fill="#379bd8"/>
<polygon points="23.0,61.0 18.3,71.1 15.2,67.5" fill="#f0d060"/>
<polygon points="23.0,61.0 27.6,63.1 18.3,71.1" fill="#8a4a1c"/>
<polygon points="27.6,63.1 27.6,67.4 18.3,71.1" fill="#93918a"/>
<polygon points="27.6,63.1 34.0,61.2 27.6,67.4" fill="#e6a645"/>
<polygon points="34.0,61.2 37.6,70.8 27.6,67.4" fill="#5a4a3c"/>
<polygon points="34.0,61.2 40.9,64.3 37.6,70.8" fill="#e6a645"/>
<polygon points="40.9,64.3 43.8,67.5 37.6,70.8" fill="#4f9fc4"/>
<polygon points="40.9,64.3 46.1,63.3 51.1,67.4" fill="#cf7420"/>
<polygon points="40.9,64.3 51.1,67.4 43.8,67.5" fill="#e08a2a"/>
<polygon points="46.1,63.3 55.6,60.1 58.2,69.7" fill="#bdbcb4"/>
<polygon points="46.1,63.3 58.2,69.7 51.1,67.4" fill="#e6a645"/>
<polygon points="55.6,60.1 62.0,63.7 62.0,70.3" fill="#f0a038"/>
<polygon points="55.6,60.1 62.0,70.3 58.2,69.7" fill="#43332a"/>
<polygon points="62.0,63.7 70.1,60.4 62.0,70.3" fill="#cf7420"/>
<polygon points="70.1,60.4 72.6,68.6 62.0,70.3" fill="#8a4a1c"/>
<polygon points="70.1,60.4 79.9,64.7 72.6,68.6" fill="#85847f"/>
<polygon points="79.9,64.7 74.8,70.2 72.6,68.6" fill="#379bd8"/>
<polygon points="79.9,64.7 86.8,60.6 74.8,70.2" fill="#5a4a3c"/>
<polygon points="86.8,60.6 82.4,67.7 74.8,70.2" fill="#33261d"/>
<polygon points="86.8,60.6 89.6,60.2 82.4,67.7" fill="#54534f"/>
<polygon points="89.6,60.2 89.0,67.3 82.4,67.7" fill="#65645f"/>
<polygon points="89.6,60.2 99.7,61.6 89.0,67.3" fill="#2672ae"/>
<polygon points="99.7,61.6 96.2,68.9 89.0,67.3" fill="#5a4a3c"/>
<polygon points="99.7,61.6 102.8,62.5 96.2,68.9" fill="#cf7420"/>
<polygon points="102.8,62.5 103.8,71.6 96.2,68.9" fill="#8a4a1c"/>
<polygon points="102.8,62.5 114.5,64.9 110.7,70.0" fill="#8a4a1c"/>
<polygon points="102.8,62.5 110.7,70.0 103.8,71.6" fill="#4f392b"/>
<polygon points="114.5,64.9 119.0,61.6 110.7,70.0" fill="#72716d"/>
<polygon points="119.0,61.6 119.0,68.1 110.7,70.0" fill="#e6a645"/>
<polygon points="0.0,67.9 9.5,70.4 0.0,76.1" fill="#4f392b"/>
<polygon points="9.5,70.4 4.1,75.5 0.0,76.1" fill="#4f9fc4"/>
<polygon points="9.5,70.4 15.2,67.5 4.1,75.5" fill="#2672ae"/>
<polygon points="15.2,67.5 11.1,78.4 4.1,75.5" fill="#1a64a8"/>
<polygon points="15.2,67.5 18.3,71.1 11.1,78.4" fill="#379bd8"/>
<polygon points="18.3,71.1 21.3,75.1 11.1,78.4" fill="#72716d"/>
<polygon points="18.3,71.1 27.6,67.4 27.8,79.6" fill="#4f392b"/>
<polygon points="18.3,71.1 27.8,79.6 21.3,75.1" fill="#26262c"/>
<polygon points="27.6,67.4 37.6,70.8 27.8,79.6" fill="#a85216"/>
<polygon points="37.6,70.8 32.6,78.9 27.8,79.6" fill="#5a4a3c"/>
<polygon points="37.6,70.8 43.8,67.5 32.6,78.9" fill="#a85216"/>
<polygon points="43.8,67.5 41.6,77.0 32.6,78.9" fill="#33261d"/>
<polygon points="43.8,67.5 51.1,67.4 41.6,77.0" fill="#54534f"/>
<polygon points="51.1,67.4 51.0,76.4 41.6,77.0" fill="#26262c"/>
<polygon points="51.1,67.4 58.2,69.7 51.0,76.4" fill="#e8e0d0"/>
<polygon points="58.2,69.7 56.0,78.1 51.0,76.4" fill="#a09f98"/>
<polygon points="58.2,69.7 62.0,70.3 56.0,78.1" fill="#a85216"/>
<polygon points="62.0,70.3 65.9,76.1 56.0,78.1" fill="#d8d070"/>
<polygon points="62.0,70.3 72.6,68.6 72.0,78.2" fill="#93918a"/>
<polygon points="62.0,70.3 72.0,78.2 65.9,76.1" fill="#85847f"/>
<polygon points="72.6,68.6 74.8,70.2 72.0,78.2" fill="#54534f"/>
<polygon points="74.8,70.2 77.8,76.4 72.0,78.2" fill="#93918a"/>
<polygon points="74.8,70.2 82.4,67.7 83.1,74.3" fill="#f0a038"/>
<polygon points="74.8,70.2 83.1,74.3 77.8,76.4" fill="#85847f"/>
<polygon points="82.4,67.7 89.0,67.3 83.1,74.3" fill="#1a64a8"/>
<polygon points="89.0,67.3 88.8,74.4 83.1,74.3" fill="#93918a"/>
<polygon points="89.0,67.3 96.2,68.9 99.4,75.5" fill="#c0651a"/>
<polygon points="89.0,67.3 99.4,75.5 88.8,74.4" fill="#bdbcb4"/>
<polygon points="96.2,68.9 103.8,71.6 99.4,75.5" fill="#4f392b"/>
<polygon points="103.8,71.6 103.0,74.5 99.4,75.5" fill="#bdbcb4"/>
<polygon points="103.8,71.6 110.7,70.0 114.0,79.2" fill="#a09f98"/>
<polygon points="103.8,71.6 114.0,79.2 103.0,74.5" fill="#72716d"/>
<polygon points="110.7,70.0 119.0,68.1 114.0,79.2" fill="#85847f"/>
<polygon points="119.0,68.1 119.0,78.0 114.0,79.2" fill="#8a4a1c"/>
<polygon points="0.0,76.1 4.1,75.5 5.5,82.8" fill="#3f8fb8"/>
<polygon points="0.0,76.1 5.5,82.8 0.0,82.7" fill="#e6a645"/>
<polygon points="4.1,75.5 11.1,78.4 13.8,81.9" fill="#bdbcb4"/>
<polygon points="4.1,75.5 13.8,81.9 5.5,82.8" fill="#2a86d0"/>
<polygon points="11.1,78.4 21.3,75.1 13.8,81.9" fill="#cf7420"/>
<polygon points="21.3,75.1 20.7,82.6 13.8,81.9" fill="#379bd8"/>
<polygon points="21.3,75.1 27.8,79.6 20.7,82.6" fill="#33261d"/>
<polygon points="27.8,79.6 30.8,86.8 20.7,82.6" fill="#a85216"/>
<polygon points="27.8,79.6 32.6,78.9 35.3,82.5" fill="#379bd8"/>
<polygon points="27.8,79.6 35.3,82.5 30.8,86.8" fill="#a85216"/>
<polygon points="32.6,78.9 41.6,77.0 44.8,82.9" fill="#65645f"/>
<polygon points="32.6,78.9 44.8,82.9 35.3,82.5" fill="#e08a2a"/>
<polygon points="41.6,77.0 51.0,76.4 44.8,82.9" fill="#3f8fb8"/>
<polygon points="51.0,76.4 48.1,81.0 44.8,82.9" fill="#1e1c1f"/>
<polygon points="51.0,76.4 56.0,78.1 55.3,83.8" fill="#54534f"/>
<polygon points="51.0,76.4 55.3,83.8 48.1,81.0" fill="#48474a"/>
<polygon points="56.0,78.1 65.9,76.1 55.3,83.8" fill="#65645f"/>
<polygon points="65.9,76.1 63.0,82.2 55.3,83.8" fill="#a09f98"/>
<polygon points="65.9,76.1 72.0,78.2 63.0,82.2" fill="#a09f98"/>
<polygon points="72.0,78.2 70.0,81.0 63.0,82.2" fill="#72716d"/>
<polygon points="72.0,78.2 77.8,76.4 75.6,81.5" fill="#54534f"/>
<polygon points="72.0,78.2 75.6,81.5 70.0,81.0" fill="#72716d"/>
<polygon points="77.8,76.4 83.1,74.3 75.6,81.5" fill="#f0d060"/>
<polygon points="83.1,74.3 83.4,81.3 75.6,81.5" fill="#e6a645"/>
<polygon points="83.1,74.3 88.8,74.4 83.4,81.3" fill="#bdbcb4"/>
<polygon points="88.8,74.4 88.1,82.8 83.4,81.3" fill="#4f392b"/>
<polygon points="88.8,74.4 99.4,75.5 96.4,84.5" fill="#93918a"/>
<polygon points="88.8,74.4 96.4,84.5 88.1,82.8" fill="#cf7420"/>
<polygon points="99.4,75.5 103.0,74.5 96.4,84.5" fill="#48474a"/>
<polygon points="103.0,74.5 105.2,85.5 96.4,84.5" fill="#85847f"/>
<polygon points="103.0,74.5 114.0,79.2 112.9,85.3" fill="#bdbcb4"/>
<polygon points="103.0,74.5 112.9,85.3 105.2,85.5" fill="#72716d"/>
<polygon points="114.0,79.2 119.0,78.0 119.0,86.3" fill="#a09f98"/>
<polygon points="114.0,79.2 119.0,86.3 112.9,85.3" fill="#65645f"/>
<polygon points="0.0,82.7 5.5,82.8 0.0,90.3" fill="#2a86d0"/>
<polygon points="5.5,82.8 6.0,93.9 0.0,90.3" fill="#65645f"/>
<polygon points="5.5,82.8 13.8,81.9 6.0,93.9" fill="#2a86d0"/>
<polygon points="13.8,81.9 11.9,92.3 6.0,93.9" fill="#379bd8"/>
<polygon points="13.8,81.9 20.7,82.6 21.9,88.3" fill="#a09f98"/>
<polygon points="13.8,81.9 21.9,88.3 11.9,92.3" fill="#a09f98"/>
<polygon points="20.7,82.6 30.8,86.8 30.0,93.4" fill="#4f392b"/>
<polygon points="20.7,82.6 30.0,93.4 21.9,88.3" fill="#5a4a3c"/>
<polygon points="30.8,86.8 35.3,82.5 35.8,92.4" fill="#54534f"/>
<polygon points="30.8,86.8 35.8,92.4 30.0,93.4" fill="#379bd8"/>
<polygon points="35.3,82.5 44.8,82.9 35.8,92.4" fill="#1d4f80"/>
<polygon points="44.8,82.9 43.9,88.8 35.8,92.4" fill="#5a4a3c"/>
<polygon points="44.8,82.9 48.1,81.0 49.1,91.0" fill="#1e1c1f"/>
<polygon points="44.8,82.9 49.1,91.0 43.9,88.8" fill="#43332a"/>
<polygon points="48.1,81.0 55.3,83.8 49.1,91.0" fill="#8a4a1c"/>
<polygon points="55.3,83.8 58.0,92.8 49.1,91.0" fill="#72716d"/>
<polygon points="55.3,83.8 63.0,82.2 58.0,92.8" fill="#85847f"/>
<polygon points="63.0,82.2 65.0,91.5 58.0,92.8" fill="#72716d"/>
<polygon points="63.0,82.2 70.0,81.0 65.0,91.5" fill="#26262c"/>
<polygon points="70.0,81.0 72.4,92.1 65.0,91.5" fill="#3a312a"/>
<polygon points="70.0,81.0 75.6,81.5 78.2,89.4" fill="#3a312a"/>
<polygon points="70.0,81.0 78.2,89.4 72.4,92.1" fill="#5a4a3c"/>
<polygon points="75.6,81.5 83.4,81.3 78.2,89.4" fill="#a09f98"/>
<polygon points="83.4,81.3 81.2,88.8 78.2,89.4" fill="#85847f"/>
<polygon points="83.4,81.3 88.1,82.8 90.2,88.6" fill="#a09f98"/>
<polygon points="83.4,81.3 90.2,88.6 81.2,88.8" fill="#72716d"/>
<polygon points="88.1,82.8 96.4,84.5 90.2,88.6" fill="#379bd8"/>
<polygon points="96.4,84.5 100.0,91.4 90.2,88.6" fill="#85847f"/>
<polygon points="96.4,84.5 105.2,85.5 100.0,91.4" fill="#48474a"/>
<polygon points="105.2,85.5 105.8,91.8 100.0,91.4" fill="#65645f"/>
<polygon points="105.2,85.5 112.9,85.3 113.1,90.9" fill="#72716d"/>
<polygon points="105.2,85.5 113.1,90.9 105.8,91.8" fill="#65645f"/>
<polygon points="112.9,85.3 119.0,86.3 113.1,90.9" fill="#bdbcb4"/>
<polygon points="119.0,86.3 119.0,88.0 113.1,90.9" fill="#a09f98"/>
<polygon points="0.0,90.3 6.0,93.9 8.5,98.0" fill="#43332a"/>
<polygon points="0.0,90.3 8.5,98.0 0.0,99.8" fill="#1e1c1f"/>
<polygon points="6.0,93.9 11.9,92.3 14.2,99.0" fill="#1a64a8"/>
<polygon points="6.0,93.9 14.2,99.0 8.5,98.0" fill="#4f9fc4"/>
<polygon points="11.9,92.3 21.9,88.3 18.4,99.4" fill="#1e1c1f"/>
<polygon points="11.9,92.3 18.4,99.4 14.2,99.0" fill="#3f8fb8"/>
<polygon points="21.9,88.3 30.0,93.4 18.4,99.4" fill="#1a64a8"/>
<polygon points="30.0,93.4 26.5,95.4 18.4,99.4" fill="#2672ae"/>
<polygon points="30.0,93.4 35.8,92.4 33.6,99.4" fill="#3f8fb8"/>
<polygon points="30.0,93.4 33.6,99.4 26.5,95.4" fill="#4f9fc4"/>
<polygon points="35.8,92.4 43.9,88.8 33.6,99.4" fill="#85847f"/>
<polygon points="43.9,88.8 40.2,99.4 33.6,99.4" fill="#1a64a8"/>
<polygon points="43.9,88.8 49.1,91.0 51.9,98.0" fill="#43332a"/>
<polygon points="43.9,88.8 51.9,98.0 40.2,99.4" fill="#1e1c1f"/>
<polygon points="49.1,91.0 58.0,92.8 51.9,98.0" fill="#72716d"/>
<polygon points="58.0,92.8 55.3,97.9 51.9,98.0" fill="#65645f"/>
<polygon points="58.0,92.8 65.0,91.5 55.3,97.9" fill="#bdbcb4"/>
<polygon points="65.0,91.5 64.1,99.6 55.3,97.9" fill="#72716d"/>
<polygon points="65.0,91.5 72.4,92.1 64.1,99.6" fill="#65645f"/>
<polygon points="72.4,92.1 70.7,98.9 64.1,99.6" fill="#bdbcb4"/>
<polygon points="72.4,92.1 78.2,89.4 74.5,95.9" fill="#93918a"/>
<polygon points="72.4,92.1 74.5,95.9 70.7,98.9" fill="#93918a"/>
<polygon points="78.2,89.4 81.2,88.8 82.5,99.5" fill="#a09f98"/>
<polygon points="78.2,89.4 82.5,99.5 74.5,95.9" fill="#a09f98"/>
<polygon points="81.2,88.8 90.2,88.6 82.5,99.5" fill="#65645f"/>
<polygon points="90.2,88.6 89.8,98.4 82.5,99.5" fill="#1e1c1f"/>
<polygon points="90.2,88.6 100.0,91.4 89.8,98.4" fill="#a09f98"/>
<polygon points="100.0,91.4 95.1,95.4 89.8,98.4" fill="#a09f98"/>
<polygon points="100.0,91.4 105.8,91.8 95.1,95.4" fill="#43332a"/>
<polygon points="105.8,91.8 103.6,99.0 95.1,95.4" fill="#cf7420"/>
<polygon points="105.8,91.8 113.1,90.9 113.2,99.1" fill="#bdbcb4"/>
<polygon points="105.8,91.8 113.2,99.1 103.6,99.0" fill="#72716d"/>
<polygon points="113.1,90.9 119.0,88.0 113.2,99.1" fill="#54534f"/>
<polygon points="119.0,88.0 119.0,96.7 113.2,99.1" fill="#379bd8"/>
<polygon points="0.0,99.8 8.5,98.0 6.8,104.8" fill="#2672ae"/>
<polygon points="0.0,99.8 6.8,104.8 0.0,105.1" fill="#54534f"/>
<polygon points="8.5,98.0 14.2,99.0 11.7,107.4" fill="#bdbcb4"/>
<polygon points="8.5,98.0 11.7,107.4 6.8,104.8" fill="#a09f98"/>
<polygon points="14.2,99.0 18.4,99.4 11.7,107.4" fill="#3f8fb8"/>
<polygon points="18.4,99.4 19.2,107.9 11.7,107.4" fill="#54534f"/>
<polygon points="18.4,99.4 26.5,95.4 19.2,107.9" fill="#3f8fb8"/>
<polygon points="26.5,95.4 30.6,102.1 19.2,107.9" fill="#72716d"/>
<polygon points="26.5,95.4 33.6,99.4 34.8,106.9" fill="#e08a2a"/>
<polygon points="26.5,95.4 34.8,106.9 30.6,102.1" fill="#54534f"/>
<polygon points="33.6,99.4 40.2,99.4 44.8,104.7" fill="#65645f"/>
<polygon points="33.6,99.4 44.8,104.7 34.8,106.9" fill="#26262c"/>
<polygon points="40.2,99.4 51.9,98.0 47.6,103.3" fill="#48474a"/>
<polygon points="40.2,99.4 47.6,103.3 44.8,104.7" fill="#33261d"/>
<polygon points="51.9,98.0 55.3,97.9 47.6,103.3" fill="#65645f"/>
<polygon points="55.3,97.9 58.7,103.3 47.6,103.3" fill="#bdbcb4"/>
<polygon points="55.3,97.9 64.1,99.6 63.5,102.9" fill="#48474a"/>
<polygon points="55.3,97.9 63.5,102.9 58.7,103.3" fill="#48474a"/>
<polygon points="64.1,99.6 70.7,98.9 70.1,107.7" fill="#93918a"/>
<polygon points="64.1,99.6 70.1,107.7 63.5,102.9" fill="#54534f"/>
<polygon points="70.7,98.9 74.5,95.9 74.8,106.9" fill="#65645f"/>
<polygon points="70.7,98.9 74.8,106.9 70.1,107.7" fill="#a09f98"/>
<polygon points="74.5,95.9 82.5,99.5 84.1,107.3" fill="#85847f"/>
<polygon points="74.5,95.9 84.1,107.3 74.8,106.9" fill="#54534f"/>
<polygon points="82.5,99.5 89.8,98.4 84.1,107.3" fill="#4f9fc4"/>
<polygon points="89.8,98.4 92.2,103.4 84.1,107.3" fill="#1e1c1f"/>
<polygon points="89.8,98.4 95.1,95.4 100.4,104.9" fill="#72716d"/>
<polygon points="89.8,98.4 100.4,104.9 92.2,103.4" fill="#72716d"/>
<polygon points="95.1,95.4 103.6,99.0 102.1,102.0" fill="#3a312a"/>
<polygon points="95.1,95.4 102.1,102.0 100.4,104.9" fill="#d8d070"/>
<polygon points="103.6,99.0 113.2,99.1 102.1,102.0" fill="#a09f98"/>
<polygon points="113.2,99.1 112.0,104.7 102.1,102.0" fill="#1e1c1f"/>
<polygon points="113.2,99.1 119.0,96.7 112.0,104.7" fill="#bdbcb4"/>
<polygon points="119.0,96.7 119.0,103.8 112.0,104.7" fill="#4f392b"/>
<polygon points="0.0,105.1 6.8,104.8 0.0,109.8" fill="#54534f"/>
<polygon points="6.8,104.8 6.1,110.9 0.0,109.8" fill="#c0651a"/>
<polygon points="6.8,104.8 11.7,107.4 16.0,109.0" fill="#48474a"/>
<polygon points="6.8,104.8 16.0,109.0 6.1,110.9" fill="#1d4f80"/>
<polygon points="11.7,107.4 19.2,107.9 16.0,109.0" fill="#72716d"/>
<polygon points="19.2,107.9 22.5,114.0 16.0,109.0" fill="#e8e0d0"/>
<polygon points="19.2,107.9 30.6,102.1 22.5,114.0" fill="#5a4a3c"/>
<polygon points="30.6,102.1 25.7,114.6 22.5,114.0" fill="#379bd8"/>
<polygon points="30.6,102.1 34.8,106.9 36.3,114.4" fill="#4f9fc4"/>
<polygon points="30.6,102.1 36.3,114.4 25.7,114.6" fill="#3f8fb8"/>
<polygon points="34.8,106.9 44.8,104.7 36.3,114.4" fill="#4f392b"/>
<polygon points="44.8,104.7 40.7,111.2 36.3,114.4" fill="#5a4a3c"/>
<polygon points="44.8,104.7 47.6,103.3 40.7,111.2" fill="#2672ae"/>
<polygon points="47.6,103.3 48.4,115.0 40.7,111.2" fill="#5a4a3c"/>
<polygon points="47.6,103.3 58.7,103.3 56.5,111.2" fill="#93918a"/>
<polygon points="47.6,103.3 56.5,111.2 48.4,115.0" fill="#85847f"/>
<polygon points="58.7,103.3 63.5,102.9 62.6,110.7" fill="#a09f98"/>
<polygon points="58.7,103.3 62.6,110.7 56.5,111.2" fill="#72716d"/>
<polygon points="63.5,102.9 70.1,107.7 67.3,109.6" fill="#bdbcb4"/>
<polygon points="63.5,102.9 67.3,109.6 62.6,110.7" fill="#48474a"/>
<polygon points="70.1,107.7 74.8,106.9 67.3,109.6" fill="#54534f"/>
<polygon points="74.8,106.9 79.0,110.7 67.3,109.6" fill="#4f392b"/>
<polygon points="74.8,106.9 84.1,107.3 86.6,110.5" fill="#a09f98"/>
<polygon points="74.8,106.9 86.6,110.5 79.0,110.7" fill="#72716d"/>
<polygon points="84.1,107.3 92.2,103.4 86.6,110.5" fill="#a09f98"/>
<polygon points="92.2,103.4 89.6,112.1 86.6,110.5" fill="#43332a"/>
<polygon points="92.2,103.4 100.4,104.9 96.1,111.2" fill="#a09f98"/>
<polygon points="92.2,103.4 96.1,111.2 89.6,112.1" fill="#bdbcb4"/>
<polygon points="100.4,104.9 102.1,102.0 107.7,114.3" fill="#85847f"/>
<polygon points="100.4,104.9 107.7,114.3 96.1,111.2" fill="#65645f"/>
<polygon points="102.1,102.0 112.0,104.7 113.9,112.8" fill="#65645f"/>
<polygon points="102.1,102.0 113.9,112.8 107.7,114.3" fill="#85847f"/>
<polygon points="112.0,104.7 119.0,103.8 113.9,112.8" fill="#48474a"/>
<polygon points="119.0,103.8 119.0,114.5 113.9,112.8" fill="#48474a"/>
<polygon points="43.6,67.8 39.0,66.8 39.4,69.9" fill="#e8e0d0"/>
<polygon points="7.1,54.6 -0.9,60.8 1.7,63.2" fill="#d8d8d0"/>
<polygon points="57.6,69.1 53.1,68.9 54.1,72.1" fill="#f0d060"/>
<polygon points="39.9,92.5 41.4,99.4 44.0,98.2" fill="#d8d070"/>
<polygon points="34.3,65.9 36.5,69.7 38.1,68.1" fill="#1a1a20"/>
<polygon points="90.3,62.1 88.8,67.7 91.6,67.7" fill="#d8d070"/>
<polygon points="72.4,87.2 74.4,92.9 76.4,91.8" fill="#d8d8d0"/>
<polygon points="85.8,39.9 78.7,46.0 80.9,47.9" fill="#e8e0d0"/>
<polygon points="46.0,49.8 54.7,52.4 55.1,49.7" fill="#e8e0d0"/>
<polygon points="86.3,94.3 82.2,101.0 85.1,102.1" fill="#d8d8d0"/>
<polygon points="26.9,83.7 27.1,92.3 28.9,92.0" fill="#f0d060"/>
<polygon points="94.5,62.6 103.4,66.4 103.9,64.8" fill="#f0d060"/>
<polygon points="86.0,72.5 89.1,77.7 91.0,75.9" fill="#1a1a20"/>
<polygon points="7.1,79.4 3.4,88.2 6.1,88.9" fill="#58c0e8"/>
<polygon points="9.1,59.0 1.8,61.6 4.0,64.7" fill="#f8b850"/>
<polygon points="11.9,85.5 7.5,94.6 10.6,95.5" fill="#f0d060"/>
<polygon points="54.0,65.5 61.1,69.0 61.8,67.0" fill="#f0d060"/>
<polygon points="69.6,64.7 77.5,66.9 77.6,63.0" fill="#d8d8d0"/>
<polygon points="27.5,56.7 26.5,62.4 29.4,62.2" fill="#f8b850"/>
<polygon points="80.6,49.7 88.8,52.7 89.4,49.5" fill="#f0d060"/>
<polygon points="80.2,43.4 75.7,50.5 78.2,51.5" fill="#e8c050"/>
<polygon points="99.1,37.7 103.2,40.0 103.6,36.3" fill="#d8d8d0"/>
<polygon points="45.1,61.5 40.3,70.2 43.8,71.3" fill="#e8e0d0"/>
<polygon points="37.6,97.3 32.3,101.8 33.9,103.1" fill="#d8d8d0"/>
<polygon points="42.4,80.5 38.7,85.9 41.0,86.9" fill="#f8b850"/>
<polygon points="102.3,85.7 100.3,91.1 102.0,91.5" fill="#1a1a20"/>
</g>
<polygon points="0,104 0,45.0 4,47.5 8,50.0 12,51.7 16,52.6 20,50.8 24,49.0 28,47.5 32,46.0 36,44.5 40,42.9 44,41.4 48,40.1 52,38.8 56,37.6 60,36.5 64,35.5 68,35.2 72,35.7 76,35.8 80,35.2 84,34.6 88,34.0 92,33.0 96,32.0 100,31.0 104,30.0 108,29.0 112,28.0 112,104" fill="#1a2230" fill-opacity=".2"/>
</svg>
<div class="av1" style="left:1175.6px"><svg width="40" height="40" viewBox="0 0 40 40" style="position:static">
<defs><radialGradient id="wbg3" cx=".45" cy=".4" r=".7"><stop offset="0" stop-color="#e2dee8"/><stop offset="1" stop-color="#d6d2dd"/></radialGradient></defs>
<rect width="40" height="40" fill="url(#wbg3)"/>
<path d="M3 40C4 33 7 28 13 25L16 23.5L26 24C29 26 31 30 31 40Z" fill="#f0ece6"/>
<path d="M15.5 19L16 26C16.5 30 18 34 20 36C21.5 33 23 29 24.5 25L23 20Z" fill="#d4ad9b"/>
<path d="M13 25.5L16 23.5C16.5 28 18 33 20 36L17 40H9C10 34 11 29 13 25.5Z" fill="#f7f5f1"/>
<path d="M24.5 24.5L27 25.5C29 29 30 34 30 40H22C22.5 35 23.5 29 24.5 24.5Z" fill="#f4f1ec"/>
<ellipse cx="21.4" cy="8.6" rx="7.3" ry="6" fill="#2a1e1b"/><ellipse cx="21.2" cy="14.6" rx="6.4" ry="7.6" fill="#dcb9a8" transform="rotate(-8 21.2 14.6)"/>
<path d="M14.2 12C13.2 6.5 16.5 2.6 21.5 2.6C26.5 2.6 29.3 6 28.8 10.5C27.5 7.8 24.5 6.4 21 7C17.8 7.6 15.6 9.6 15.2 13.5Z" fill="#2a1e1b"/>
<path d="M17.5 12.2h3M23.5 12h2.6" stroke="#6b4a40" stroke-width=".7" fill="none"/>
<path d="M21.5 19.2h2.6" stroke="#b5615a" stroke-width=".9" fill="none"/>
<ellipse cx="18.2" cy="36.6" rx="4.8" ry="3.6" fill="#a5131d"/>
<path d="M15.5 36c1.5-1.5 3.5-1.500 5 .2M16.500 38c1.500.8 3 .6 4.200-.6" stroke="#7a0c14" stroke-width=".8" fill="none"/>
</svg></div>
<div class="abs" style="left:1203.6px;top:894px;width:16px;height:12px;border-radius:4px;background:#fff"></div>
<div class="abs" style="left:1204.6px;top:895px;width:14px;height:10px;border-radius:3px;background:#f0142f"></div>
<svg style="left:1209.6px;top:897px" width="5" height="6" viewBox="0 0 5 6"><path d="M0.3 0.3L4.7 3L0.3 5.7Z" fill="#fff"/></svg>
<div class="t pn" style="left:1223.6px" >@olivia.rhye</div>
<div class="t pd" style="left:1223.6px" >3 days ago</div>
<svg style="left:1359.3px;top:874.500px" width="20" height="20" viewBox="0 0 20 20" fill="#a4a7ae"><circle cx="10" cy="3.8" r="1.5"/><circle cx="10" cy="10" r="1.5"/><circle cx="10" cy="16.2" r="1.5"/></svg>
<div class="t pt" style="left:1179.8px" >#HelloFrom Rowena Crest,<br>Oregon. We are dreaming of</div>
<!--S3END-->


</body>
</html>
